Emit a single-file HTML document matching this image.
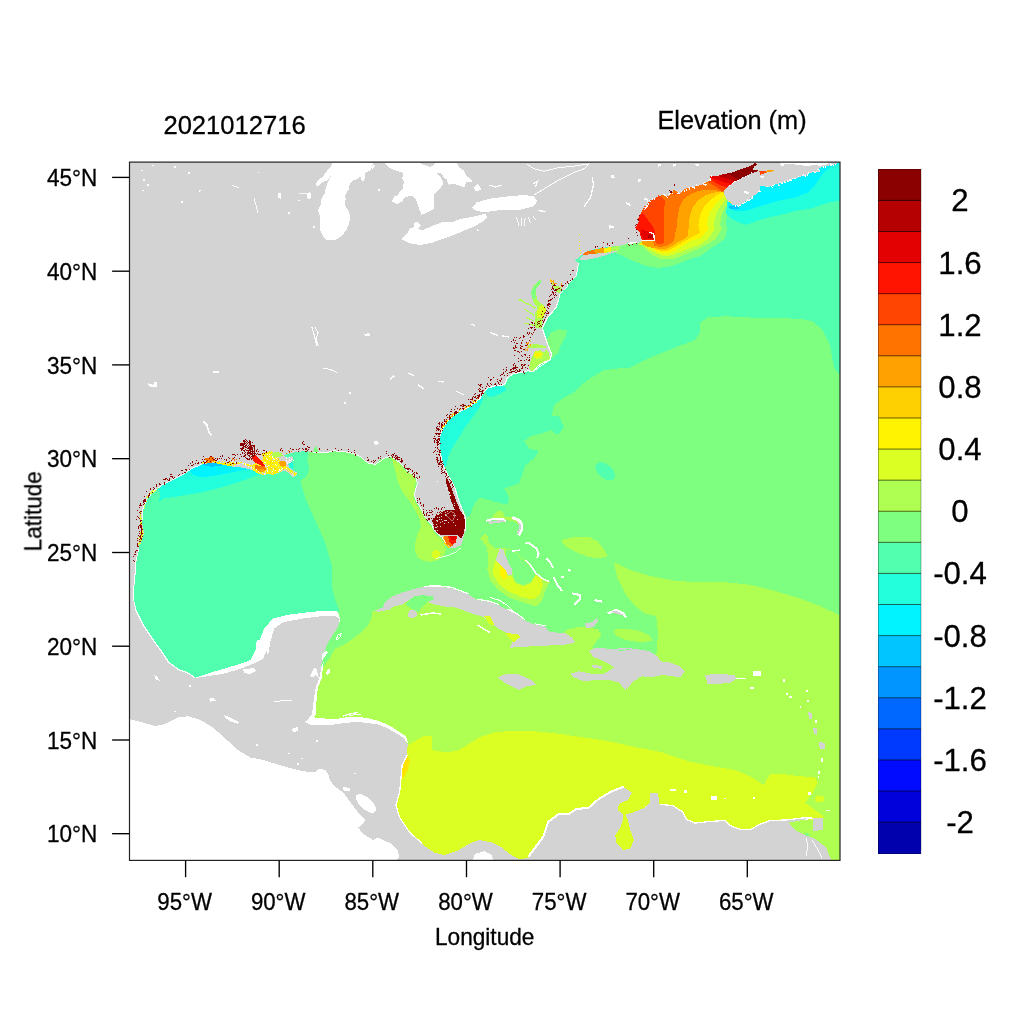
<!DOCTYPE html>
<html><head><meta charset="utf-8"><title>Elevation map</title>
<style>html,body{margin:0;padding:0;background:#fff}svg{display:block}text{font-family:"Liberation Sans",sans-serif;fill:#000;stroke:#000;stroke-width:0.3px}</style></head><body>
<svg width="1024" height="1024" viewBox="0 0 1024 1024">
<rect width="1024" height="1024" fill="#fff"/>
<defs><clipPath id="cp"><rect x="129.5" y="162.1" width="710.5" height="698.3"/></clipPath></defs>
<g clip-path="url(#cp)" shape-rendering="crispEdges">
<polygon fill="#51FFAE" points="128.0,161.0 841.0,161.0 841.0,862.0 128.0,862.0"/>
<polygon fill="#7FFF7F" points="308.0,445.0 308.1,453.5 307.4,461.7 309.4,468.1 306.8,475.7 300.5,481.0 305.5,498.5 315.5,521.0 325.5,543.5 331.8,566.0 331.8,586.0 335.5,601.0 339.2,609.8 325.0,640.0 300.0,700.0 300.0,862.0 841.0,862.0 840.0,375.0 835.0,370.0 832.5,360.0 830.0,345.0 822.5,330.0 812.5,321.2 800.0,318.8 775.0,318.0 750.0,317.5 725.0,316.2 707.5,317.5 700.0,322.5 700.0,332.5 695.0,340.0 675.0,347.5 650.0,357.5 630.0,367.5 615.0,368.8 604.0,370.0 591.5,377.5 581.5,385.0 574.0,392.5 564.0,397.5 554.0,405.0 551.5,416.0 559.0,416.0 564.0,427.2 559.0,433.5 534.0,434.8 524.0,441.0 529.0,448.5 539.0,451.0 534.0,458.5 524.0,471.0 519.0,483.5 504.0,488.5 509.0,498.5 507.8,504.8 496.5,502.2 484.0,498.5 480.0,497.4 476.1,501.0 472.6,508.0 470.3,515.0 466.8,517.4 464.0,511.0 458.0,505.0 450.0,480.0 440.0,452.0 420.0,445.0"/>
<polygon fill="#7FFF7F" points="524.3,442.0 530.2,436.2 540.0,433.8 552.0,430.0 560.0,440.0 545.0,452.0 532.5,459.6 525.5,465.5 521.0,478.0 519.0,484.0 530.0,484.0 560.0,470.0 565.0,440.0"/>
<ellipse fill="#51FFAE" cx="605.2" cy="471.3" rx="11.5" ry="6.8" transform="rotate(40 605.2 471.3)"/>
<polygon fill="#7FFF7F" points="546.9,340.9 550.4,332.7 558.6,329.2 566.8,330.3 565.7,336.2 561.0,344.4 558.6,352.6 551.6,358.5 551.0,352.6 548.1,344.4"/>
<polygon fill="#7FFF7F" points="606.0,240.0 610.0,246.0 615.7,253.2 623.5,256.1 630.0,259.5 636.8,262.3 643.7,265.3 650.5,267.0 657.3,267.7 664.2,267.4 671.0,266.0 677.8,264.0 684.7,261.2 691.5,258.5 700.0,256.3 712.9,247.0 720.5,242.0 725.0,238.8 727.0,230.0 726.4,225.0 726.4,219.7 727.2,215.0 728.8,210.3 730.3,206.4 731.9,204.5 738.0,196.0 765.0,179.0 790.0,168.0 800.0,161.0 600.0,161.0 600.0,236.0 638.0,238.5"/>
<polygon fill="#AEFF51" points="640.0,243.0 642.3,245.5 647.1,251.0 653.9,255.8 660.8,258.8 667.6,259.5 674.4,258.5 681.3,255.8 688.1,253.0 694.9,250.3 700.0,248.2 708.0,244.0 715.8,238.8 721.7,229.0 720.2,225.0 720.9,218.1 722.5,212.7 725.6,207.2 728.0,203.3 728.8,201.7 738.0,196.0 765.0,179.0 790.0,168.0 800.0,161.0 600.0,161.0 600.0,236.0 638.0,238.5"/>
<polygon fill="#DCFF23" points="643.0,244.0 645.0,246.9 650.5,250.3 657.3,254.0 664.2,256.1 671.0,255.4 677.8,253.0 684.7,250.3 691.5,247.6 700.0,244.8 708.0,238.8 714.8,229.0 713.9,225.0 714.7,218.1 717.0,211.9 720.9,205.6 724.8,200.9 726.4,199.4 738.0,196.0 765.0,179.0 790.0,168.0 800.0,161.0 600.0,161.0 600.0,236.0 638.0,238.5"/>
<polygon fill="#FFF300" points="648.0,246.0 652.6,248.2 657.3,251.7 664.2,253.4 671.0,252.3 676.5,249.6 681.9,246.2 687.4,242.8 692.9,240.0 700.0,238.7 705.0,233.0 708.0,229.0 706.9,225.0 707.7,218.1 710.0,211.9 714.7,204.8 720.2,199.4 724.1,195.5 724.5,192.3 738.0,196.0 765.0,179.0 790.0,168.0 800.0,161.0 600.0,161.0 600.0,236.0 638.0,238.5"/>
<polygon fill="#FFD000" points="650.0,246.5 653.9,248.2 657.3,250.0 664.2,251.3 669.6,250.0 675.1,246.9 680.6,243.5 686.0,240.4 691.5,237.3 695.6,235.2 700.0,232.9 699.2,229.0 698.3,225.0 699.8,215.8 703.8,207.2 710.0,200.2 716.2,195.5 721.7,192.3 738.0,196.0 765.0,179.0 790.0,168.0 800.0,161.0 600.0,161.0 600.0,236.0 638.0,238.5"/>
<polygon fill="#FFA200" points="641.5,241.0 643.0,242.1 643.7,244.8 647.8,246.9 652.6,247.9 657.3,248.6 664.2,249.3 668.3,248.2 673.8,244.8 679.2,241.4 684.7,238.7 688.1,235.9 688.4,230.5 688.9,225.0 689.7,215.8 692.8,207.2 698.3,200.2 705.3,195.5 713.1,192.7 720.9,192.0 738.0,196.0 765.0,179.0 790.0,168.0 800.0,161.0 600.0,161.0 600.0,236.0 638.0,238.5"/>
<polygon fill="#FF7300" points="652.0,243.0 652.6,244.8 656.0,246.2 660.8,246.9 665.5,246.2 669.6,244.1 673.8,240.7 675.1,236.6 675.5,231.8 677.2,225.0 677.6,215.8 679.5,207.2 683.4,199.4 689.7,194.7 697.5,191.2 705.3,189.6 714.7,190.0 721.7,191.6 738.0,196.0 765.0,179.0 790.0,168.0 800.0,161.0 600.0,161.0 600.0,236.0 638.0,238.5"/>
<polygon fill="#FF4500" points="654.6,240.7 657.3,243.5 660.8,243.8 663.5,242.8 664.2,238.7 664.5,231.8 664.2,225.0 664.3,211.9 664.7,200.2 660.0,195.0 640.0,200.0 630.0,225.0 640.0,238.0"/>
<polygon fill="#FF1400" points="642.6,212.5 647.5,219.3 651.0,224.0 654.3,229.0 655.3,235.9 654.3,240.0 640.0,240.0 634.0,228.0 637.0,218.0"/>
<polygon fill="#E30000" points="640.6,229.0 649.4,232.0 653.3,234.9 654.3,238.8 644.5,239.5 641.6,235.9"/>
<polygon fill="#B50000" points="648.3,235.5 652.6,235.2 652.8,238.3 648.0,238.3"/>
<polygon fill="#FF4500" points="709.2,182.6 714.7,186.1 722.5,191.2 745.0,190.0 765.0,179.0 790.0,168.0 800.0,161.0 705.0,161.0 705.0,172.0"/>
<polygon fill="#FF1400" points="712.0,180.6 717.8,184.1 726.4,187.7 729.1,186.1 745.0,190.0 765.0,179.0 790.0,168.0 800.0,161.0 705.0,161.0 705.0,172.0"/>
<polygon fill="#E30000" points="711.6,177.9 719.4,180.6 728.0,183.4 731.9,183.8 745.0,190.0 765.0,179.0 790.0,168.0 800.0,161.0 705.0,161.0 705.0,172.0"/>
<polygon fill="#B50000" points="717.8,175.9 726.4,178.7 733.4,180.6 735.0,181.8 745.0,190.0 765.0,179.0 790.0,168.0 800.0,161.0 705.0,161.0 705.0,172.0"/>
<polygon fill="#8B0000" points="727.2,173.6 733.4,176.7 738.1,179.5 740.0,179.8 745.0,190.0 765.0,179.0 790.0,168.0 800.0,161.0 705.0,161.0 705.0,172.0"/>
<polygon fill="#23FFDC" points="726.0,213.0 726.9,214.7 730.8,218.6 738.6,222.5 746.4,224.9 750.3,223.5 758.1,220.5 767.9,217.6 780.0,215.2 795.0,211.0 810.0,208.8 825.0,203.8 841.0,200.0 841.0,162.5 790.0,162.5 770.0,178.0 745.0,190.0 728.0,197.0"/>
<polygon fill="#00F3FF" points="727.5,206.5 728.8,207.9 734.7,210.8 742.5,211.3 750.3,209.3 758.1,206.9 765.9,204.4 773.8,202.0 780.0,200.5 795.0,197.5 807.5,192.5 815.0,185.0 820.0,177.5 825.0,171.0 832.5,166.0 841.0,163.5 841.0,162.5 790.0,162.5 770.0,178.0 745.0,190.0 728.0,197.0"/>
<polygon fill="#00C5FF" points="728.3,206.7 731.8,205.9 739.6,206.9 738.6,208.8 732.7,209.3 729.3,208.3"/>
<polygon fill="#23FFDC" points="439.9,444.4 439.9,436.2 442.3,429.1 447.0,422.1 452.8,416.2 459.8,411.6 466.9,408.0 473.9,403.4 479.8,398.7 482.5,394.5 483.5,397.0 482.1,402.2 478.6,409.2 471.6,418.6 464.5,428.0 457.5,439.7 451.6,449.1 448.1,457.3 446.4,465.5 444.5,467.0 442.7,461.1 441.0,451.7 435.0,445.0"/>
<polygon fill="#23FFDC" points="485.6,391.6 486.0,388.0 495.0,384.0 502.0,384.0 506.7,389.9 499.7,394.0 490.3,397.5 486.2,395.2"/>
<polygon fill="#23FFDC" points="157.9,488.0 160.0,482.0 173.7,478.0 189.5,468.0 201.8,462.0 219.4,460.0 237.0,464.0 251.0,466.0 261.6,473.9 251.0,477.5 237.0,482.7 219.4,488.0 201.8,492.4 180.7,495.9 163.2,498.6 158.8,502.1 160.5,495.0"/>
<polygon fill="#00F3FF" points="189.5,470.4 195.0,466.0 201.8,463.0 215.9,461.0 226.4,463.0 240.5,466.9 251.0,468.7 237.0,471.3 219.4,474.8 201.8,477.5 193.0,474.8"/>
<polygon fill="#00C5FF" points="201.8,464.8 209.0,462.0 223.0,462.5 222.0,465.5 211.0,466.8"/>
<polygon fill="#23FFDC" points="287.9,463.0 292.2,462.2 293.7,465.7 292.2,469.6 289.0,468.8"/>
<polygon fill="#AEFF51" points="314.0,684.0 320.0,672.0 325.9,663.0 329.5,658.6 333.9,649.8 345.7,643.9 355.9,636.6 366.2,627.8 371.3,619.0 372.0,611.0 374.0,610.8 384.0,607.0 400.0,595.0 430.0,590.0 470.0,600.0 510.0,615.0 540.0,630.0 560.0,636.0 566.0,630.0 580.0,626.5 598.0,629.0 601.5,635.0 596.0,642.0 592.0,648.0 600.0,656.0 640.0,663.0 652.0,660.0 657.0,652.0 657.5,640.0 657.5,628.5 656.2,616.0 645.0,613.5 635.0,606.0 625.0,593.5 617.5,578.5 613.8,562.2 630.0,569.8 650.0,576.0 675.0,581.0 700.0,582.2 725.0,582.2 750.0,584.8 775.0,591.0 800.0,598.5 820.0,606.0 841.0,616.0 841.0,862.0 300.0,862.0 300.0,690.0"/>
<polygon fill="#AEFF51" points="613.8,629.8 625.0,628.5 640.0,631.0 650.0,636.0 652.5,641.0 640.0,642.2 625.0,639.8 615.0,634.8"/>
<polygon fill="#7FFF7F" points="405.4,604.4 414.0,595.3 423.7,594.1 432.3,595.3 434.4,599.0 426.9,602.2 418.3,611.9 413.0,609.7"/>
<polygon fill="#AEFF51" points="561.3,539.8 572.9,537.4 589.5,536.9 597.8,541.5 604.5,549.8 607.8,556.4 601.2,558.1 589.5,557.3 577.9,553.1 567.9,548.1 563.0,544.0"/>
<polygon fill="#AEFF51" points="391.7,457.6 397.6,462.3 405.8,471.1 414.0,476.3 415.8,481.0 414.6,489.2 413.4,496.3 415.2,502.1 419.9,509.2 424.5,517.4 426.9,522.1 431.6,526.8 435.1,533.8 441.0,538.5 444.5,545.5 445.7,550.2 443.9,555.5 438.6,559.6 431.6,561.7 423.4,561.0 417.7,557.2 415.2,551.4 415.2,543.2 417.5,533.8 421.0,526.8 419.9,519.7 415.2,510.3 409.3,501.0 402.3,491.6 397.6,481.0 395.2,470.5 392.9,462.3"/>
<ellipse fill="#DCFF23" cx="435.7" cy="554.3" rx="4.2" ry="4.4" transform="rotate(20 435.7 554.3)"/>
<polygon fill="#AEFF51" points="480.0,538.2 484.9,534.0 487.4,535.7 489.1,543.2 494.9,548.1 503.2,548.1 513.2,549.8 519.8,556.4 526.4,561.4 536.4,573.0 543.0,579.7 549.7,582.2 544.7,591.3 543.0,597.9 541.4,601.3 536.4,606.3 533.1,605.4 523.1,602.1 509.8,597.9 498.2,589.6 489.9,579.7 487.4,569.7 488.3,556.4 486.6,546.5 483.3,542.3"/>
<polygon fill="#DCFF23" points="494.9,560.6 492.4,573.0 498.2,583.0 508.2,591.3 521.5,597.1 533.1,599.6 539.7,594.6 543.0,584.7 541.4,578.9 536.4,575.5 533.1,578.0 531.4,583.0 523.1,586.3 514.8,583.0 511.5,576.4 507.4,576.4 501.5,566.4 497.4,561.4"/>
<polygon fill="#7FFF7F" points="505.7,549.8 513.2,550.6 519.8,557.3 526.4,562.3 535.6,573.0 533.9,577.2 531.1,582.2 523.1,585.0 515.7,582.2 512.8,575.5 512.3,569.7 509.0,563.9 505.7,556.4"/>
<polygon fill="#FFF300" points="499.9,566.4 503.2,565.6 507.4,571.4 507.4,578.0 503.2,578.9 500.2,574.7"/>
<polygon fill="#AEFF51" points="491.6,516.6 497.4,510.8 502.4,511.6 504.9,516.6 512.3,517.4 518.1,520.8 519.8,526.6 514.8,521.6 509.8,520.8 503.2,518.6 494.9,518.6"/>
<polygon fill="#DCFF23" points="407.8,745.0 416.5,740.0 424.0,736.2 431.5,736.2 431.5,750.0 446.5,752.5 459.0,750.0 469.0,743.8 479.0,737.5 494.0,732.5 514.0,730.5 534.0,731.2 559.0,733.8 584.0,737.5 609.0,741.2 637.5,747.5 662.5,752.5 687.5,761.2 712.5,766.2 735.0,770.0 750.0,776.2 763.8,785.0 770.0,773.8 780.0,773.8 800.0,776.2 815.0,777.5 817.5,782.5 812.5,792.5 805.0,802.5 815.0,810.0 823.8,816.2 817.0,824.0 808.0,845.0 700.0,855.0 400.0,862.0 392.0,800.0 400.0,760.0"/>
<ellipse fill="#DCFF23" cx="819.5" cy="799.0" rx="4.5" ry="3.2" transform="rotate(0 819.5 799.0)"/>
<polygon fill="#FFE400" points="404.0,752.0 406.4,753.4 409.9,760.4 408.1,769.2 402.9,778.9 399.5,775.0 400.5,764.0"/>
<polygon fill="#FFFFFF" points="254.2,672.0 256.8,656.0 259.2,641.0 264.2,628.5 273.0,618.5 288.0,614.8 308.0,612.2 328.0,610.5 336.8,611.0 340.5,618.5 339.2,623.5 328.0,628.5 278.0,628.5 268.0,672.0"/>
<polygon fill="#FFFFFF" points="194.2,678.0 203.0,675.0 215.5,671.2 228.0,667.5 240.5,663.8 250.5,660.0 255.5,650.0 256.8,640.0 270.0,640.0 268.0,660.0 255.0,672.0 230.0,680.0 205.0,684.0"/>
<polyline fill="none" stroke="#FFFFFF" stroke-width="2.6" points="137.8,549.0 135.2,561.0 134.0,578.5 132.5,590.0 132.8,600.0 135.5,611.0 143.0,626.0 153.0,641.0 160.5,651.0 168.0,662.5 178.0,670.0 188.0,673.8 194.2,678.0"/>
<polygon fill="#FFFFFF" points="323.7,662.0 321.5,679.0 317.8,687.9 316.4,702.5 316.4,714.2 312.0,718.0 312.0,717.2 334.0,719.4 345.0,717.5 355.9,716.5 367.0,718.0 377.9,720.8 386.0,724.0 392.5,727.4 399.0,731.5 405.7,736.2 408.5,744.0 404.0,740.0 392.0,732.0 378.0,726.0 356.0,723.0 334.0,726.0 312.0,727.0 300.0,724.0 308.0,714.0 312.0,700.0 316.0,680.0 320.0,668.0"/>
<polygon fill="#FFFFFF" points="309.8,676.2 314.2,667.4 316.4,668.8 318.6,677.6 315.6,674.7 313.4,676.9"/>
<polyline fill="none" stroke="#FFFFFF" stroke-width="1.4" points="343.0,716.0 350.0,714.0 358.0,712.5"/>
<polyline fill="none" stroke="#FFFFFF" stroke-width="1.0" points="349.0,715.8 356.0,714.5 361.0,714.0"/>
<polyline fill="none" stroke="#FFFFFF" stroke-width="1.0" points="336.0,640.0 338.0,635.0 341.0,633.5 340.0,637.0 336.5,640.5"/>
<polyline fill="none" stroke="#FFFFFF" stroke-width="4" points="529.0,857.5 536.5,847.5 544.0,837.5 549.0,822.5 559.0,815.0 569.0,815.0 576.5,810.0 589.0,808.8 599.0,800.0 611.5,792.5 624.0,787.5"/>
<polyline fill="none" stroke="#FFFFFF" stroke-width="2.5" points="645.0,807.5 660.0,805.0 672.5,806.2 682.5,812.5 686.2,820.0 695.0,823.8 710.0,822.0 725.0,821.2 730.0,826.2 740.0,830.0 750.0,830.5 760.0,825.0 770.0,821.2 787.5,820.5 800.0,818.8 812.5,818.0"/>
<polyline fill="none" stroke="#FFFFFF" stroke-width="2.5" points="406.5,755.0 401.5,765.0 400.2,780.0 399.0,792.5 395.2,805.0 399.0,817.5 409.0,832.5 421.5,843.8"/>
<polyline fill="none" stroke="#FFFFFF" stroke-width="1.3" points="423.7,586.3 438.7,585.9 451.6,587.4 460.2,590.6 468.8,593.8"/>
<polyline fill="none" stroke="#FFFFFF" stroke-width="1.3" points="477.4,599.2 490.3,601.4 498.9,604.6"/>
<polyline fill="none" stroke="#FFFFFF" stroke-width="1.2" points="507.5,608.9 516.1,613.2 524.7,619.6"/>
<polyline fill="none" stroke="#FFFFFF" stroke-width="1.0" points="535.4,623.9 546.2,626.1"/>
<polyline fill="none" stroke="#FFFFFF" stroke-width="1.0" points="490.3,597.5 498.9,600.1 507.5,605.4 512.9,610.8"/>
<polyline fill="none" stroke="#FFFFFF" stroke-width="1.5" points="477.4,624.8 483.9,629.1 490.3,632.7"/>
<polyline fill="none" stroke="#FFFFFF" stroke-width="1.5" points="420.5,615.1 432.3,613.0 440.9,614.0"/>
<polyline fill="none" stroke="#FFFFFF" stroke-width="2" points="485.8,520.8 491.6,519.4 503.2,519.4 505.7,521.6"/>
<polyline fill="none" stroke="#FFFFFF" stroke-width="3" points="512.3,517.4 518.1,519.9 521.8,524.1 521.8,529.1 518.5,535.2"/>
<polyline fill="none" stroke="#FFFFFF" stroke-width="2" points="525.6,542.8 529.8,543.5 536.4,548.5 538.6,553.1 537.2,558.1"/>
<polyline fill="none" stroke="#FFFFFF" stroke-width="2" points="546.4,558.1 549.7,561.4 553.0,568.1"/>
<polyline fill="none" stroke="#FFFFFF" stroke-width="1.5" points="525.6,559.8 531.4,566.4 535.6,573.0 543.0,578.9 548.9,581.3"/>
<polyline fill="none" stroke="#FFFFFF" stroke-width="2" points="553.8,577.2 557.2,584.7 562.1,591.0"/>
<polyline fill="none" stroke="#FFFFFF" stroke-width="2" points="572.1,593.3 579.6,595.0 580.1,598.8 574.6,604.6"/>
<polyline fill="none" stroke="#FFFFFF" stroke-width="2" points="594.5,600.1 602.0,601.6"/>
<polyline fill="none" stroke="#FFFFFF" stroke-width="2.5" points="607.8,613.4 616.1,610.1 622.7,613.4 626.1,617.0"/>
<polyline fill="none" stroke="#FFFFFF" stroke-width="1.5" points="512.3,551.1 519.8,550.1"/>
<polyline fill="none" stroke="#FFFFFF" stroke-width="2" points="568.9,568.9 569.9,571.7"/>
<polyline fill="none" stroke="#FFFFFF" stroke-width="2" points="561.3,576.9 563.8,576.9"/>
<polyline fill="none" stroke="#FFFFFF" stroke-width="0.8" points="436.3,558.4 445.7,556.1 455.0,552.5 460.9,547.9"/>
<polygon fill="#FFFFFF" points="782.5,678.8 784.5,678.8 784.5,682.2 782.5,682.2"/>
<polygon fill="#FFFFFF" points="785.5,693.0 788.0,693.0 788.0,694.5 785.5,694.5"/>
<polygon fill="#FFFFFF" points="789.0,695.5 791.5,695.5 791.5,698.0 789.0,698.0"/>
<polygon fill="#FFFFFF" points="806.2,689.5 808.2,689.5 808.2,692.0 806.2,692.0"/>
<polygon fill="#FFFFFF" points="806.5,699.5 809.0,699.5 809.0,701.5 806.5,701.5"/>
<polygon fill="#FFFFFF" points="799.5,705.8 801.0,705.8 801.0,707.8 799.5,707.8"/>
<polygon fill="#FFFFFF" points="815.0,720.0 817.0,720.0 817.0,722.5 815.0,722.5"/>
<polygon fill="#FFFFFF" points="821.2,757.5 823.2,757.5 823.2,762.0 821.2,762.0"/>
<polygon fill="#FFFFFF" points="818.0,771.2 819.5,771.2 819.5,774.2 818.0,774.2"/>
<polygon fill="#FFFFFF" points="817.5,776.2 819.0,776.2 819.0,778.2 817.5,778.2"/>
<polygon fill="#FFFFFF" points="808.0,792.0 810.5,792.0 810.5,795.0 808.0,795.0"/>
<polygon fill="#FFFFFF" points="826.2,809.5 829.8,809.5 829.8,811.0 826.2,811.0"/>
<polygon fill="#FFFFFF" points="753.0,670.5 761.0,670.5 761.0,676.0 753.0,676.0"/>
<polygon fill="#FFFFFF" points="749.5,687.0 754.0,687.0 754.0,688.5 749.5,688.5"/>
<polygon fill="#FFFFFF" points="736.2,677.5 746.2,677.5 746.2,678.8 736.2,678.8"/>
<polygon fill="#FFFFFF" points="669.5,788.8 676.0,788.8 676.0,791.2 669.5,791.2"/>
<polygon fill="#FFFFFF" points="683.8,789.5 686.8,789.5 686.8,793.0 683.8,793.0"/>
<polygon fill="#FFFFFF" points="711.2,796.2 717.2,796.2 717.2,799.8 711.2,799.8"/>
<polygon fill="#FFFFFF" points="723.8,797.5 726.2,797.5 726.2,799.0 723.8,799.0"/>
<polygon fill="#FFFFFF" points="753.0,797.0 755.0,797.0 755.0,798.5 753.0,798.5"/>
<polyline fill="none" stroke="#FFFFFF" stroke-width="1.6" points="641.6,240.6 654.3,240.3 654.6,238.5 653.3,233.9 649.4,232.0"/>
<polyline fill="none" stroke="#FFFFFF" stroke-width="1.5" points="628.0,243.5 634.0,242.6 640.0,241.0"/>
<polygon fill="#D3D3D3" points="841.0,161.0 840.2,162.4 834.8,164.3 828.6,165.5 822.5,166.7 817.7,169.2 821.3,172.2 816.4,171.6 810.3,172.8 805.4,175.3 799.3,177.1 792.0,179.5 785.9,181.4 779.8,183.2 774.9,184.4 771.3,186.2 766.4,187.5 763.9,185.6 760.3,186.2 760.3,190.5 755.4,194.8 749.3,199.1 744.4,202.1 739.5,205.8 733.4,205.2 728.5,201.5 724.9,196.6 723.9,191.2 725.9,188.3 730.8,184.4 736.6,180.5 742.5,177.6 748.4,174.6 752.3,172.7 757.1,172.2 758.1,170.2 755.2,169.8 752.3,169.3 754.2,166.8 756.7,164.4 755.2,162.9 752.3,164.9 748.4,166.8 742.5,168.8 736.6,170.7 730.8,173.2 724.9,173.7 719.1,175.6 712.2,175.6 709.3,176.6 711.2,179.5 707.3,182.0 701.5,184.9 695.6,186.4 689.8,187.3 683.9,189.3 680.0,193.2 673.8,190.0 671.9,192.9 668.0,196.8 664.1,194.9 657.2,196.8 652.3,199.8 648.4,202.7 643.1,209.5 640.6,213.4 638.2,218.3 638.7,222.2 635.3,227.6 639.6,232.0 640.6,235.9 642.1,240.8 637.7,243.7 636.2,242.0 632.3,242.0 628.4,242.9 624.5,244.9 618.6,245.9 612.7,246.4 605.9,247.3 599.1,248.3 593.2,249.3 587.3,251.2 582.5,254.7 577.6,258.6 574.6,261.0 578.6,263.0 577.6,268.8 576.1,275.7 572.7,279.6 567.8,284.5 563.9,290.0 562.1,290.5 559.8,294.0 558.6,299.9 556.3,306.9 551.6,312.8 546.9,318.6 542.2,328.0 543.4,331.5 546.9,342.1 551.6,353.8 550.4,359.6 544.5,362.0 538.7,365.5 532.8,371.4 528.1,370.8 519.9,372.5 512.6,374.1 506.7,378.8 505.5,383.4 502.0,385.2 495.0,385.8 488.0,388.1 483.3,392.8 479.8,398.7 473.9,403.4 466.9,408.0 459.8,411.6 452.8,416.2 447.0,422.1 442.3,429.1 439.9,436.2 439.9,444.4 440.4,451.7 441.5,458.8 443.3,465.8 446.8,472.8 451.5,481.0 455.0,488.1 457.4,496.3 459.7,503.3 462.1,509.2 465.0,516.2 465.6,522.1 465.0,531.4 463.2,538.5 460.9,545.5 455.0,547.9 448.0,547.9 445.7,543.2 442.1,537.3 437.4,533.8 433.9,530.3 431.6,524.4 426.9,519.7 423.4,513.9 419.9,506.8 416.3,501.0 414.6,496.3 415.2,490.4 417.5,483.4 416.3,477.5 411.7,474.0 407.0,470.5 402.3,465.2 397.6,461.1 392.9,457.6 389.4,457.0 384.7,458.2 380.0,459.3 375.4,464.3 369.0,463.6 365.2,461.1 361.4,457.3 356.3,454.8 348.7,452.2 341.1,451.6 333.5,450.9 325.9,452.9 318.9,452.2 315.7,445.2 313.2,452.2 305.4,451.2 299.2,451.6 292.9,452.8 286.7,454.0 283.6,455.5 286.7,457.9 291.4,456.3 293.7,457.9 291.4,462.6 288.2,464.1 289.0,467.2 292.9,470.4 297.6,472.7 296.8,475.1 292.9,477.4 289.8,474.3 285.1,470.4 278.9,472.7 272.6,475.1 267.9,473.5 263.2,475.1 257.8,473.5 253.1,470.4 247.6,468.8 239.8,467.2 232.0,466.5 228.2,464.3 219.4,462.5 210.6,462.5 201.8,464.3 193.0,467.8 184.2,473.9 173.7,479.2 163.2,484.5 154.4,490.6 147.3,498.6 142.9,509.1 142.1,520.0 141.8,521.0 144.2,533.5 139.2,546.0 135.5,561.0 134.2,578.5 132.5,596.0 135.5,611.0 143.0,626.0 153.0,641.0 160.5,651.0 168.0,662.5 178.0,670.0 188.0,673.8 194.2,678.0 203.0,677.0 223.0,673.8 240.5,668.8 253.0,663.8 263.0,658.8 266.8,650.0 268.0,656.0 270.5,641.0 274.2,628.5 283.0,622.2 303.0,618.5 323.0,616.0 335.5,616.0 339.8,619.0 338.3,626.4 332.5,635.2 327.4,643.9 324.4,651.3 323.0,658.6 321.5,664.5 321.0,670.0 319.3,677.6 315.6,687.9 313.4,702.5 312.0,714.2 308.0,719.5 304.6,722.0 312.0,725.2 322.0,725.0 334.0,724.5 345.0,723.0 355.9,721.9 367.0,722.8 377.9,724.5 386.0,727.5 392.5,731.1 399.0,735.0 404.3,738.4 407.8,745.0 406.5,755.0 401.5,765.0 400.2,780.0 399.0,792.5 395.2,805.0 399.0,817.5 409.0,832.5 421.5,843.8 434.0,852.5 444.0,855.0 459.0,850.0 469.0,843.8 479.0,840.0 491.5,842.5 501.5,847.5 511.5,855.0 520.2,859.5 529.0,857.5 536.5,847.5 544.0,837.5 549.0,822.5 559.0,815.0 569.0,815.0 576.5,810.0 589.0,808.8 599.0,800.0 611.5,792.5 624.0,787.5 631.5,792.5 627.8,800.0 619.0,803.8 617.8,810.0 624.0,815.0 632.5,812.5 645.0,807.5 650.0,803.0 650.0,793.0 658.0,792.5 659.0,802.0 660.0,805.0 672.5,806.2 682.5,812.5 686.2,820.0 695.0,823.8 710.0,822.0 725.0,821.2 730.0,826.2 740.0,830.0 750.0,830.5 760.0,825.0 770.0,821.2 787.5,820.5 800.0,818.8 806.0,818.3 803.0,822.0 795.0,825.0 790.0,823.0 795.0,830.0 802.5,833.8 812.5,837.5 820.0,842.5 826.2,847.5 828.8,855.0 832.5,862.0 128.0,862.0 128.0,161.0"/>
<polygon fill="#D3D3D3" points="579.5,259.1 582.5,255.6 589.3,254.2 595.2,253.7 603.0,253.2 606.9,252.7 610.8,251.7 618.6,250.5 616.6,251.7 610.8,253.7 603.0,256.1 595.2,258.1 587.3,259.6 579.5,260.5"/>
<polygon fill="#D3D3D3" points="812.5,818.0 822.5,817.5 822.5,830.0 812.5,831.2"/>
<polygon fill="#D3D3D3" points="374.3,610.8 382.9,607.6 385.0,602.2 391.5,596.9 402.2,592.6 413.0,589.3 423.7,586.8 438.7,586.8 451.6,588.3 460.2,591.5 468.8,594.7 477.4,600.1 490.3,602.2 498.9,605.4 507.5,609.7 516.1,614.0 524.7,620.5 535.4,624.8 546.2,626.9 548.3,631.2 556.9,632.7 565.5,633.4 571.9,637.7 575.2,642.0 569.8,644.1 559.0,645.2 546.2,645.6 533.3,646.3 520.4,646.9 509.6,647.8 511.8,643.0 520.4,636.6 516.1,634.4 507.5,633.4 501.0,630.2 494.6,625.9 488.2,620.5 481.7,616.2 473.1,614.0 464.5,610.8 455.9,607.6 445.2,606.5 434.4,604.4 428.0,602.2 434.4,599.0 432.3,596.2 423.7,595.3 415.1,595.8 408.7,600.1 402.2,604.4 393.6,606.5 389.3,609.7 382.9,610.8 378.6,611.9"/>
<polygon fill="#D3D3D3" points="407.6,614.0 410.8,609.7 416.2,610.8 417.7,615.1 413.0,618.3 408.7,617.3"/>
<polygon fill="#DCFF23" points="483.9,616.2 490.3,616.2 494.6,625.9 489.2,623.7"/>
<polygon fill="#DCFF23" points="505.3,632.9 518.2,634.4 520.4,637.0 513.9,642.0 509.6,638.7"/>
<polygon fill="#D3D3D3" points="497.8,677.5 506.5,673.8 519.0,674.5 531.5,680.0 536.5,685.0 526.5,686.2 519.0,690.0 511.5,686.2 504.0,682.5"/>
<polygon fill="#D3D3D3" points="589.0,651.2 596.5,647.5 609.0,648.8 621.5,651.2 634.0,648.8 607.5,651.2 622.5,647.5 635.0,648.8 650.0,651.2 657.5,656.2 660.0,661.2 670.0,662.5 680.0,666.2 685.0,671.2 680.0,677.5 672.5,676.2 662.5,675.0 650.0,677.5 642.5,676.2 635.0,678.8 627.5,688.8 622.5,683.8 615.0,680.0 605.0,678.8 640.0,677.5 631.5,682.5 625.2,690.0 619.0,682.5 609.0,680.0 596.5,680.0 584.0,681.2 574.0,677.5 570.2,673.8 579.0,671.2 591.5,673.8 604.0,673.8 614.0,667.5 609.0,663.8 601.5,660.0 594.0,657.5"/>
<polygon fill="#D3D3D3" points="591.5,665.0 601.5,665.8 602.0,668.8 592.8,668.0"/>
<polygon fill="#D3D3D3" points="705.0,675.0 717.5,673.8 735.0,675.0 736.2,678.8 730.0,683.0 717.5,683.8 707.5,683.8"/>
<polygon fill="#D3D3D3" points="499.9,548.1 503.2,549.0 505.7,556.4 509.0,563.9 512.3,569.7 512.3,574.7 508.2,575.5 505.7,569.7 501.5,565.6 495.7,559.8 497.4,555.6"/>
<polygon fill="#D3D3D3" points="584.6,623.7 592.0,622.0 597.0,617.9 597.8,621.2 593.7,627.0 586.2,628.2"/>
<polygon fill="#D3D3D3" points="488.3,521.3 503.2,519.9 505.2,521.6 499.9,522.6 493.2,523.2 489.6,524.2"/>
<polygon fill="#D3D3D3" points="516.5,520.8 521.1,524.4 521.1,529.1 518.6,534.0 516.5,532.4 519.1,528.2 518.5,524.4"/>
<polygon fill="#D3D3D3" points="611.1,611.6 616.9,610.9 624.4,615.4 619.4,614.6 614.4,613.4"/>
<polygon fill="#D3D3D3" points="808.0,712.0 812.0,713.0 812.0,719.5 809.0,718.5"/>
<polygon fill="#D3D3D3" points="813.0,727.5 817.0,728.5 817.0,735.0 814.0,734.0"/>
<polygon fill="#D3D3D3" points="818.8,742.0 824.8,743.0 824.8,749.5 819.8,748.5"/>
<polygon fill="#FFFFFF" points="128.0,718.8 143.0,722.5 155.5,726.2 165.5,723.8 178.0,717.5 188.0,716.2 200.5,720.0 213.0,727.5 225.5,738.8 238.0,750.0 250.5,757.5 263.0,760.0 275.5,763.8 288.0,767.5 303.0,771.2 315.5,772.5 319.2,768.8 325.5,770.0 328.0,776.2 333.0,785.0 343.0,792.5 350.5,802.5 358.0,812.5 365.5,820.0 361.8,825.0 358.0,827.5 363.0,833.8 373.0,840.0 378.0,837.5 384.0,840.5 391.5,843.8 397.8,850.0 399.0,857.5 394.0,862.0 128.0,862.0"/>
<polygon fill="#FFFFFF" points="471.5,862.0 475.2,853.8 484.0,851.2 491.5,855.0 494.0,862.0"/>
<ellipse fill="#FFFFFF" cx="366.0" cy="803.5" rx="12.5" ry="5.8" transform="rotate(42 366.0 803.5)"/>
<ellipse fill="#FFFFFF" cx="346.5" cy="789.2" rx="4.0" ry="1.8" transform="rotate(15 346.5 789.2)"/>
<polygon fill="#DCFF23" points="624.0,812.0 627.8,820.0 630.2,830.0 634.0,840.0 630.2,848.8 622.8,850.0 616.5,842.5 615.2,835.0 620.2,827.5 622.8,820.0 622.5,812.0"/>
<polygon fill="#AEFF51" points="788.8,822.5 806.0,819.5 812.5,820.0 812.5,831.2 818.0,831.5 823.0,835.0 817.0,839.5 808.0,836.2 802.5,833.8 795.0,830.0"/>
<polygon fill="#7FFF7F" points="803.0,833.0 808.0,833.5 811.0,836.0 806.0,836.0"/>
<polyline fill="none" stroke="#FFFFFF" stroke-width="0.9" points="806.0,838.0 808.0,846.0 806.0,856.0"/>
<polyline fill="none" stroke="#FFFFFF" stroke-width="0.9" points="812.0,840.0 818.0,850.0 822.0,858.0"/>
<polygon fill="#8B0000" points="431.6,519.7 435.1,517.4 441.0,512.7 445.7,510.3 450.3,509.8 455.0,510.3 450.3,498.6 448.0,489.2 445.7,481.0 447.2,478.7 449.3,482.2 452.7,491.6 456.2,501.0 459.7,509.2 464.0,516.2 465.3,524.4 463.8,533.8 460.9,538.5 457.4,535.0 450.3,535.0 443.3,535.5 437.4,533.8 433.9,529.7 433.3,524.4"/>
<path fill="#D3D3D3" d="M435 530h1v1h-1zM436 527h1v1h-1zM437 530h1v1h-1zM440 522h1v1h-1zM444 523h1v1h-1zM445 512h1v1h-1zM445 515h1v1h-1zM447 511h1v1h-1zM448 522h1v1h-1zM453 515h1v1h-1zM453 522h1v1h-1zM455 515h1v1h-1zM455 525h1v1h-1zM457 519h1v1h-1z"/>
<path fill="#D3D3D3" d="M432 519h1v1h-1zM433 524h1v1h-1zM435 527h1v1h-1zM436 520h1v1h-1zM436 524h1v1h-1zM437 517h1v1h-1zM437 520h1v1h-1zM437 521h1v1h-1zM437 526h1v1h-1zM439 517h1v1h-1zM439 519h1v1h-1zM440 526h1v1h-1zM441 513h1v1h-1zM441 516h1v1h-1zM441 519h1v1h-1zM442 521h1v1h-1zM444 520h1v1h-1zM445 514h1v1h-1zM445 515h1v1h-1zM445 520h1v1h-1zM446 515h1v1h-1zM446 520h1v1h-1z"/>
<path fill="#8B0000" d="M427 512h1v1h-1zM428 515h1v1h-1zM429 510h1v1h-1zM429 512h1v1h-1zM430 512h1v1h-1zM431 510h1v1h-1zM431 512h1v1h-1zM432 511h1v1h-1zM432 514h1v1h-1zM434 508h1v1h-1zM435 516h1v1h-1zM435 517h1v1h-1zM436 507h1v1h-1zM436 508h1v1h-1zM436 514h1v1h-1zM436 515h1v1h-1zM437 512h1v1h-1zM438 508h1v1h-1zM438 509h1v1h-1zM438 515h1v1h-1zM439 512h1v1h-1zM440 511h1v1h-1zM441 508h1v1h-1zM441 509h1v1h-1zM442 507h1v1h-1zM444 507h1v1h-1z"/>
<path fill="#D3D3D3" d="M449 493h1v1h-1zM451 508h1v1h-1zM454 503h1v1h-1zM454 505h1v1h-1z"/>
<polygon fill="none" stroke="#c9a9a9" stroke-width="0.7" points="446.2,514.5 450.9,511.5 454.4,513.3 455,516.8 452.1,520.9 447.4,516.2"/>
<polygon fill="#FFD000" points="442.7,535.5 444.5,539.6 446.8,544.9 450.3,547.3 448.0,547.9 445.1,544.9 442.7,539.6"/>
<polygon fill="#FF7300" points="443.9,536.1 448.6,535.5 449.8,542.6 453.3,545.5 450.3,546.7 446.8,544.3 444.5,539.6"/>
<polygon fill="#FF1400" points="448.0,535.5 456.8,535.5 456.2,542.0 452.7,544.9 449.2,542.0"/>
<polygon fill="#E30000" points="449.2,535.5 456.2,535.5 455.6,539.6 451.5,539.6"/>
<polygon fill="#AEFF51" points="529.9,363.8 530.7,359.6 533.4,353.8 535.2,350.9 540.4,350.3 544.0,352.6 546.3,349.3 548.7,352.6 550.2,359.1 544.5,361.8 538.7,364.9 534.6,369.6 531.7,371.4 529.3,367.9"/>
<polygon fill="#DCFF23" points="533.4,353.8 535.2,351.4 540.4,350.9 542.8,353.8 542.2,357.3 537.5,359.1 534.0,357.3"/>
<polygon fill="#FFF300" points="534.6,353.2 540.4,352.6 541.0,355.5 536.3,357.1 534.2,355.5"/>
<polygon fill="#AEFF51" points="527.5,345.3 535.2,343.9 542.2,345.1 546.3,346.5 545.1,348.4 535.2,347.9 528.1,347.7"/>
<polyline fill="none" stroke="#FFFFFF" stroke-width="1" points="532.8,371.4 550.4,359.6 551.6,353.8 546.9,342.0 543.4,331.5"/>
<polygon fill="#AEFF51" points="536.3,328.0 534.0,324.5 535.2,318.6 535.2,312.8 537.5,309.2 536.3,305.7 533.4,302.2 531.7,296.3 531.1,291.7 533.4,286.4 538.7,280.5 541.0,279.9 541.6,282.3 536.3,288.1 535.8,294.0 537.5,299.9 541.0,303.4 544.5,305.7 546.9,310.4 544.5,315.1 542.2,321.0 541.6,325.7 542.2,328.6"/>
<polygon fill="#DCFF23" points="537.5,310.4 541.0,305.1 545.1,306.9 546.3,310.4 544.0,315.1 540.4,318.6 536.9,317.4"/>
<polygon fill="#7FFF7F" points="531.4,295.2 531.4,291.1 533.8,286.7 538.9,280.9 541.0,280.2 541.3,282.3 536.1,288.1 535.4,294.0 535.8,297.5 533.4,299.9"/>
<polyline fill="none" stroke="#AEFF51" stroke-width="1.5" points="535.2,308.1 529.3,304.5 523.4,302.2 521.1,299.9 517.6,300.4"/>
<polyline fill="none" stroke="#AEFF51" stroke-width="1.2" points="534.0,315.1 529.3,312.2 524.6,309.2"/>
<polyline fill="none" stroke="#AEFF51" stroke-width="1.2" points="535.2,325.7 529.3,324.2 524.0,323.3"/>
<polyline fill="none" stroke="#AEFF51" stroke-width="1.2" points="534.0,321.0 526.4,317.4"/>
<polygon fill="#AEFF51" points="551.6,282.9 555.1,285.2 560.4,287.0 561.5,289.3 559.2,293.4 556.3,291.7 553.9,288.1"/>
<polyline fill="none" stroke="#FFD000" stroke-width="1.5" points="550.5,279.0 551.6,282.9"/>
<polygon fill="#FF7300" points="582.5,255.4 584.4,252.7 589.3,250.8 594.2,249.8 594.7,253.7 589.3,254.2"/>
<polygon fill="#FFA200" points="594.2,249.8 599.1,248.6 603.9,248.0 604.4,253.0 599.1,253.4 594.7,253.7"/>
<polygon fill="#FFF300" points="603.9,248.0 610.8,247.1 611.3,251.4 606.9,252.6 604.4,253.0"/>
<polygon fill="#AEFF51" points="610.8,247.1 618.6,246.2 619.8,249.8 615.7,250.8 611.3,251.4"/>
<path fill="#FFF300" d="M579 234h1v1h-1zM579 241h1v1h-1zM579 245h1v1h-1zM579 248h1v1h-1zM580 250h1v1h-1zM580 253h1v1h-1z"/>
<polygon fill="#FFA200" points="641.5,242.9 645.9,241.0 652.8,240.7 654.2,244.4 653.3,247.3 647.9,245.6 643.0,244.4"/>
<polygon fill="#FFF300" points="638.1,244.2 641.5,242.7 643.0,244.4 640.1,245.6"/>
<polygon fill="#FF4500" points="759.0,171.3 766.0,170.6 766.0,172.8 760.5,174.6"/>
<polygon fill="#FFA200" points="766.0,170.6 774.5,170.0 774.0,171.2 766.0,172.8"/>
<path fill="#FFF300" d="M729 201h1v1h-1zM730 202h1v1h-1z"/>
<polygon fill="#FFF300" points="261.7,454.0 271.1,450.8 275.8,455.5 278.9,459.4 285.9,465.7 291.4,470.4 296.8,473.5 294.5,475.8 289.8,472.7 285.1,468.8 278.9,472.7 272.6,475.1 267.9,473.5 263.2,475.1 257.8,473.5 253.1,470.4 251.5,465.7 257.8,461.8 263.2,459.4"/>
<path fill="#FFD000" d="M252 466h1v1h-1zM255 463h1v1h-1zM255 470h1v1h-1zM256 465h1v1h-1zM257 464h1v1h-1zM257 471h1v1h-1zM259 470h1v1h-1zM260 461h1v1h-1zM262 455h1v1h-1zM262 462h1v1h-1zM262 464h1v1h-1zM262 472h1v1h-1zM263 456h1v1h-1zM263 462h1v1h-1zM263 464h1v1h-1zM264 459h1v1h-1zM264 470h1v1h-1zM265 452h1v1h-1zM265 456h1v1h-1zM265 458h1v1h-1zM265 460h1v1h-1zM266 459h1v1h-1zM266 467h1v1h-1zM267 455h1v1h-1zM267 461h1v1h-1zM267 465h1v1h-1zM267 467h1v1h-1zM268 458h1v1h-1zM268 465h1v1h-1zM269 470h1v1h-1zM270 454h1v1h-1zM270 461h1v1h-1zM270 462h1v1h-1zM270 465h1v1h-1zM270 468h1v1h-1zM270 472h1v1h-1zM271 460h1v1h-1zM271 468h1v1h-1zM271 474h1v1h-1zM272 456h1v1h-1zM272 463h1v1h-1zM273 470h1v1h-1zM274 460h1v1h-1zM274 468h1v1h-1zM275 455h1v1h-1zM275 468h1v1h-1zM275 469h1v1h-1zM275 471h1v1h-1zM276 466h1v1h-1zM277 469h1v1h-1zM277 471h1v1h-1zM278 458h1v1h-1zM278 459h1v1h-1zM279 462h1v1h-1zM280 465h1v1h-1zM281 463h1v1h-1zM283 469h1v1h-1zM284 464h1v1h-1zM287 467h1v1h-1zM293 473h1v1h-1z"/>
<path fill="#D3D3D3" d="M253 466h1v1h-1zM253 468h1v1h-1zM256 466h1v1h-1zM256 467h1v1h-1zM257 464h1v1h-1zM259 462h1v1h-1zM259 464h1v1h-1zM259 467h1v1h-1zM259 472h1v1h-1zM261 472h1v1h-1zM261 474h1v1h-1zM262 456h1v1h-1zM262 461h1v1h-1zM262 463h1v1h-1zM262 472h1v1h-1zM262 473h1v1h-1zM263 473h1v1h-1zM264 453h1v1h-1zM264 455h1v1h-1zM264 464h1v1h-1zM265 456h1v1h-1zM265 464h1v1h-1zM265 466h1v1h-1zM265 471h1v1h-1zM265 472h1v1h-1zM265 473h1v1h-1zM265 474h1v1h-1zM266 458h1v1h-1zM266 464h1v1h-1zM266 466h1v1h-1zM266 467h1v1h-1zM267 469h1v1h-1zM267 470h1v1h-1zM269 454h1v1h-1zM269 460h1v1h-1zM269 465h1v1h-1zM270 451h1v1h-1zM270 455h1v1h-1zM270 470h1v1h-1zM271 454h1v1h-1zM271 472h1v1h-1zM272 453h1v1h-1zM272 459h1v1h-1zM272 464h1v1h-1zM272 473h1v1h-1zM273 459h1v1h-1zM273 468h1v1h-1zM274 455h1v1h-1zM274 461h1v1h-1zM275 457h1v1h-1zM276 458h1v1h-1zM276 460h1v1h-1zM276 473h1v1h-1zM277 459h1v1h-1zM278 461h1v1h-1zM278 463h1v1h-1zM278 467h1v1h-1zM279 471h1v1h-1zM280 465h1v1h-1zM281 467h1v1h-1zM282 466h1v1h-1zM282 469h1v1h-1zM286 466h1v1h-1zM287 469h1v1h-1zM287 471h1v1h-1zM288 470h1v1h-1zM289 471h1v1h-1zM291 472h1v1h-1zM292 473h1v1h-1zM293 472h1v1h-1z"/>
<path fill="#FFFFFF" d="M256 469h1v1h-1zM258 471h1v1h-1zM259 471h1v1h-1zM260 469h1v1h-1zM261 467h1v1h-1zM262 467h1v1h-1zM264 462h1v1h-1zM264 473h1v1h-1zM264 474h1v1h-1zM265 455h1v1h-1zM265 462h1v1h-1zM265 465h1v1h-1zM266 458h1v1h-1zM267 454h1v1h-1zM267 459h1v1h-1zM267 466h1v1h-1zM267 468h1v1h-1zM267 470h1v1h-1zM267 471h1v1h-1zM268 465h1v1h-1zM269 454h1v1h-1zM269 456h1v1h-1zM271 467h1v1h-1zM272 456h1v1h-1zM272 457h1v1h-1zM272 461h1v1h-1zM272 471h1v1h-1zM273 458h1v1h-1zM273 469h1v1h-1zM274 459h1v1h-1zM275 464h1v1h-1zM275 467h1v1h-1zM275 470h1v1h-1zM276 458h1v1h-1zM276 465h1v1h-1zM278 471h1v1h-1zM279 469h1v1h-1zM279 470h1v1h-1zM280 465h1v1h-1zM280 468h1v1h-1zM280 470h1v1h-1zM281 469h1v1h-1zM282 468h1v1h-1zM286 468h1v1h-1zM293 474h1v1h-1z"/>
<path fill="#DCFF23" d="M255 470h1v1h-1zM256 467h1v1h-1zM257 465h1v1h-1zM260 464h1v1h-1zM260 467h1v1h-1zM261 472h1v1h-1zM263 461h1v1h-1zM263 470h1v1h-1zM265 455h1v1h-1zM266 473h1v1h-1zM267 457h1v1h-1zM268 460h1v1h-1zM268 470h1v1h-1zM270 452h1v1h-1zM271 471h1v1h-1zM271 474h1v1h-1zM272 468h1v1h-1zM272 469h1v1h-1zM273 454h1v1h-1zM273 457h1v1h-1zM273 470h1v1h-1zM275 467h1v1h-1zM280 468h1v1h-1zM287 467h1v1h-1zM295 473h1v1h-1z"/>
<polygon fill="#AEFF51" points="271.8,453.6 275.8,451.6 282.0,453.6 282.8,455.9 278.9,457.5 274.2,457.1 271.5,455.9"/>
<polygon fill="#FFA200" points="278.9,461.8 282.8,460.6 286.3,462.2 285.9,465.7 282.8,466.9 279.7,465.3"/>
<polygon fill="#FF1400" points="252.2,455.5 255.4,455.1 258.6,458.3 264.8,464.9 266.4,466.3 263.2,466.6 255.4,462.6 252.5,459.4"/>
<polygon fill="#FF7300" points="255.4,465.3 264.8,466.1 266.4,469.6 263.2,471.5 257.8,470.4 254.7,468.0"/>
<polygon fill="#FFA200" points="257.8,468.8 263.2,469.2 265.6,470.8 263.2,472.1 259.3,471.5"/>
<polygon fill="#D3D3D3" points="286.7,458.3 291.4,457.5 291.8,461.8 288.2,462.6 286.7,461.0"/>
<path fill="#FFFFFF" d="M286 457h1v1h-1zM286 458h1v1h-1zM286 460h1v1h-1zM286 461h1v1h-1zM287 462h1v1h-1zM287 463h1v1h-1zM288 461h1v1h-1zM289 457h1v1h-1zM289 459h1v1h-1zM289 460h1v1h-1zM289 462h1v1h-1zM290 460h1v1h-1zM291 459h1v1h-1zM293 460h1v1h-1z"/>
<polyline fill="none" stroke="#FFF300" stroke-width="1.6" points="232.0,463.0 236.7,462.6 241.4,463.3 247.6,464.9 251.5,466.1"/>
<path fill="#D3D3D3" d="M232 461h1v1h-1zM232 463h1v1h-1zM232 464h1v1h-1zM233 464h1v1h-1zM234 462h1v1h-1zM236 464h1v1h-1zM237 462h1v1h-1zM239 464h1v1h-1zM240 463h1v1h-1zM241 463h1v1h-1zM243 463h1v1h-1zM243 464h1v1h-1zM243 465h1v1h-1zM245 464h1v1h-1zM245 465h1v1h-1zM246 463h1v1h-1z"/>
<path fill="#FFFFFF" d="M232 461h1v1h-1zM235 462h1v1h-1zM238 464h1v1h-1zM239 462h1v1h-1zM242 463h1v1h-1zM243 463h1v1h-1zM245 463h1v1h-1zM245 464h1v1h-1zM245 465h1v1h-1zM248 466h1v1h-1zM249 464h1v1h-1zM251 467h1v1h-1z"/>
<path fill="#FF7300" d="M232 458h1v1h-1zM232 459h1v1h-1zM234 459h1v1h-1zM234 460h1v1h-1zM236 459h1v1h-1z"/>
<polygon fill="#FF7300" points="205.3,458.5 213.0,456.4 215.9,461.0 210.0,463.4 206.0,462.5"/>
<polyline fill="none" stroke="#FFF300" stroke-width="1.5" points="215.9,462.5 226.0,464.5 232.0,465.5"/>
<path fill="#8B0000" d="M240 443h1v1h-1zM240 444h1v1h-1zM240 445h1v1h-1zM240 448h1v1h-1zM241 443h1v1h-1zM241 444h1v1h-1zM241 445h1v1h-1zM241 448h1v1h-1zM241 449h1v1h-1zM241 450h1v1h-1zM242 443h1v1h-1zM242 444h1v1h-1zM242 445h1v1h-1zM242 447h1v1h-1zM242 448h1v1h-1zM242 449h1v1h-1zM242 452h1v1h-1zM242 453h1v1h-1zM243 440h1v1h-1zM243 441h1v1h-1zM243 443h1v1h-1zM243 444h1v1h-1zM243 445h1v1h-1zM243 446h1v1h-1zM243 447h1v1h-1zM243 448h1v1h-1zM243 450h1v1h-1zM243 456h1v1h-1zM244 440h1v1h-1zM244 441h1v1h-1zM244 442h1v1h-1zM244 443h1v1h-1zM244 444h1v1h-1zM244 446h1v1h-1zM244 450h1v1h-1zM244 451h1v1h-1zM244 453h1v1h-1zM244 455h1v1h-1zM244 456h1v1h-1zM245 439h1v1h-1zM245 441h1v1h-1zM245 443h1v1h-1zM245 445h1v1h-1zM245 446h1v1h-1zM245 447h1v1h-1zM245 449h1v1h-1zM245 452h1v1h-1zM245 454h1v1h-1zM245 455h1v1h-1zM245 457h1v1h-1zM246 440h1v1h-1zM246 442h1v1h-1zM246 444h1v1h-1zM246 445h1v1h-1zM246 447h1v1h-1zM246 450h1v1h-1zM246 458h1v1h-1zM247 441h1v1h-1zM247 443h1v1h-1zM247 446h1v1h-1zM247 448h1v1h-1zM247 450h1v1h-1zM247 452h1v1h-1zM247 453h1v1h-1zM247 454h1v1h-1zM247 458h1v1h-1zM247 459h1v1h-1zM248 442h1v1h-1zM248 445h1v1h-1zM248 447h1v1h-1zM248 448h1v1h-1zM248 450h1v1h-1zM248 451h1v1h-1zM248 452h1v1h-1zM248 453h1v1h-1zM248 455h1v1h-1zM248 459h1v1h-1zM249 440h1v1h-1zM249 441h1v1h-1zM249 442h1v1h-1zM249 443h1v1h-1zM249 444h1v1h-1zM249 446h1v1h-1zM249 447h1v1h-1zM249 448h1v1h-1zM249 449h1v1h-1zM249 450h1v1h-1zM249 452h1v1h-1zM249 453h1v1h-1zM249 455h1v1h-1zM249 456h1v1h-1zM249 458h1v1h-1zM249 459h1v1h-1zM250 441h1v1h-1zM250 442h1v1h-1zM250 443h1v1h-1zM250 444h1v1h-1zM250 445h1v1h-1zM250 446h1v1h-1zM250 447h1v1h-1zM250 448h1v1h-1zM250 449h1v1h-1zM250 450h1v1h-1zM250 451h1v1h-1zM250 452h1v1h-1zM250 453h1v1h-1zM250 454h1v1h-1zM250 457h1v1h-1zM251 445h1v1h-1zM251 446h1v1h-1zM251 447h1v1h-1zM251 448h1v1h-1zM251 449h1v1h-1zM251 451h1v1h-1zM251 453h1v1h-1zM251 454h1v1h-1zM251 456h1v1h-1zM251 458h1v1h-1zM251 459h1v1h-1zM252 442h1v1h-1zM252 445h1v1h-1zM252 447h1v1h-1zM252 448h1v1h-1zM252 449h1v1h-1zM252 450h1v1h-1zM252 451h1v1h-1zM252 452h1v1h-1zM252 453h1v1h-1zM252 454h1v1h-1zM252 455h1v1h-1zM252 456h1v1h-1zM252 458h1v1h-1zM253 445h1v1h-1zM253 446h1v1h-1zM253 451h1v1h-1zM253 453h1v1h-1zM253 455h1v1h-1zM253 456h1v1h-1zM254 445h1v1h-1zM254 446h1v1h-1zM254 447h1v1h-1zM254 448h1v1h-1zM254 449h1v1h-1zM254 450h1v1h-1zM254 451h1v1h-1zM254 452h1v1h-1zM254 453h1v1h-1zM254 454h1v1h-1zM254 455h1v1h-1zM255 453h1v1h-1z"/>
<path fill="#8B0000" d="M232 454h1v1h-1zM233 454h1v1h-1zM233 458h1v1h-1zM234 454h1v1h-1zM234 457h1v1h-1zM235 455h1v1h-1zM237 454h1v1h-1zM239 458h1v1h-1zM240 454h1v1h-1zM241 456h1v1h-1z"/>
<path fill="#8B0000" d="M256 450h1v1h-1zM256 451h1v1h-1zM256 454h1v1h-1zM257 449h1v1h-1zM257 453h1v1h-1zM258 451h1v1h-1zM258 454h1v1h-1zM259 454h1v1h-1zM260 454h1v1h-1zM262 453h1v1h-1zM263 450h1v1h-1zM263 455h1v1h-1zM264 450h1v1h-1zM264 453h1v1h-1zM266 451h1v1h-1zM266 452h1v1h-1z"/>
<path fill="#8B0000" d="M280 449h1v1h-1zM280 450h1v1h-1zM281 448h1v1h-1zM282 450h1v1h-1zM289 451h1v1h-1zM290 448h1v1h-1zM292 449h1v1h-1zM293 449h1v1h-1zM296 449h1v1h-1zM298 449h1v1h-1zM298 451h1v1h-1zM299 448h1v1h-1zM302 448h1v1h-1zM303 449h1v1h-1zM305 448h1v1h-1zM305 451h1v1h-1zM306 449h1v1h-1zM306 451h1v1h-1zM307 450h1v1h-1zM308 447h1v1h-1zM308 449h1v1h-1zM309 447h1v1h-1z"/>
<path fill="#8B0000" d="M302 442h1v1h-1zM302 443h1v1h-1zM303 441h1v1h-1zM303 444h1v1h-1zM304 444h1v1h-1zM306 448h1v1h-1zM307 446h1v1h-1z"/>
<path fill="#FF7300" d="M282 451h1v1h-1zM286 453h1v1h-1zM288 450h1v1h-1zM289 452h1v1h-1zM291 451h1v1h-1z"/>
<polygon fill="#FFFFFF" points="777.4,161.0 829.9,161.0 827.4,164.3 820.1,165.9 814.0,164.6 807.9,166.3 800.6,165.1 793.2,164.3 781.0,163.7"/>
<polygon fill="#FFFFFF" points="743.8,191.3 747.5,191.1 747.3,193.6 744.2,193.4"/>
<polygon fill="#FFFFFF" points="332.5,162.5 372.1,162.5 374.7,165.3 372.9,168.8 369.4,171.0 365.5,172.7 365.0,177.6 363.3,181.5 360.6,179.8 360.6,176.7 357.1,178.9 352.7,180.7 349.7,183.7 348.8,189.0 345.3,195.2 345.7,199.6 344.4,203.1 346.1,207.5 348.8,211.0 350.1,217.1 349.2,223.3 346.6,229.4 342.2,235.8 336.0,239.5 327.2,240.4 323.7,237.3 320.2,230.3 319.8,223.3 320.2,217.1 318.0,210.5 320.7,204.8 321.5,198.7 324.6,193.4 325.0,189.9 328.1,182.0 329.0,180.7 329.9,177.6 332.5,174.1 336.0,171.0 333.4,172.7 330.3,176.3 328.1,179.8 326.4,180.7 322.9,182.0 320.2,184.6 317.1,186.4 315.6,185.5 317.1,181.5 319.8,178.9 322.9,177.1 324.6,174.1 328.1,169.7 330.8,166.2"/>
<polygon fill="#FFFFFF" points="307.0,193.0 309.2,192.3 311.0,193.4 310.7,196.9 308.8,199.6 307.2,197.4"/>
<polygon fill="#FFFFFF" points="384.3,162.6 388.6,167.5 395.1,170.2 402.6,172.9 403.7,176.1 401.5,177.7 403.7,181.5 403.1,189.0 399.9,191.2 398.3,194.9 394.0,196.5 391.9,201.4 397.2,204.0 401.5,201.9 404.7,197.6 411.2,195.4 415.5,198.7 417.6,204.0 419.8,210.5 421.4,214.8 427.3,212.6 433.8,208.9 434.3,194.4 440.2,187.9 443.4,184.2 441.8,179.3 439.1,175.0 436.4,173.4 441.3,173.4 444.0,177.7 446.6,179.3 448.8,184.7 454.2,183.6 459.5,185.8 464.4,187.4 466.5,181.5 472.4,182.6 471.3,179.3 466.5,176.1 463.8,170.7 459.5,167.5 456.3,162.6"/>
<polygon fill="#D3D3D3" points="418.7,162.6 425.2,165.4 430.5,167.0 434.8,163.8 435.4,162.6"/>
<polygon fill="#D3D3D3" points="371.4,170.2 372.5,166.4 374.7,163.8 384.3,163.2 384.3,162.6 365.0,162.6 365.0,163.2 367.1,163.2"/>
<polygon fill="#FFFFFF" points="365.0,163.0 373.1,163.0 371.7,167.5 370.9,170.2 365.0,172.0"/>
<polygon fill="#FFFFFF" points="401.7,239.1 407.9,232.9 409.6,228.6 413.2,227.7 414.9,221.5 417.6,221.5 421.1,225.9 418.4,228.6 422.0,230.3 432.5,225.9 441.3,222.4 453.6,221.5 460.6,218.9 471.2,217.1 481.7,214.5 486.1,213.6 487.0,218.0 481.7,222.4 471.2,227.7 460.6,232.1 450.1,236.5 439.5,240.0 432.5,242.6 420.2,245.2 411.4,243.5 406.1,241.7"/>
<polygon fill="#FFFFFF" points="471.5,207.5 476.5,202.5 489.0,198.8 509.0,196.2 524.0,195.0 534.0,196.2 537.0,201.2 534.0,206.2 521.5,209.5 504.0,209.5 486.5,212.0 476.5,211.2"/>
<polyline fill="none" stroke="#FFFFFF" stroke-width="1" points="534.0,195.0 544.0,188.8 559.0,180.0 574.0,172.5 584.0,168.8 589.0,163.8"/>
<polyline fill="none" stroke="#FFFFFF" stroke-width="1" points="526.5,163.8 534.0,168.8 544.0,171.2 559.0,167.5 574.0,166.2 589.0,163.8"/>
<polyline fill="none" stroke="#FFFFFF" stroke-width="1.3" points="592.2,177.0 593.5,185.0 590.5,197.5 584.0,206.5"/>
<polyline fill="none" stroke="#FFFFFF" stroke-width="0.9" points="516.5,217.0 519.0,225.5"/>
<polyline fill="none" stroke="#FFFFFF" stroke-width="0.9" points="521.0,218.0 522.0,225.5"/>
<polyline fill="none" stroke="#FFFFFF" stroke-width="0.9" points="525.2,218.0 524.0,226.2"/>
<polyline fill="none" stroke="#FFFFFF" stroke-width="0.9" points="528.5,217.0 530.2,222.5"/>
<polyline fill="none" stroke="#FFFFFF" stroke-width="0.9" points="532.8,216.2 535.8,220.0"/>
<polyline fill="none" stroke="#FFFFFF" stroke-width="1.5" points="538.5,210.5 546.0,211.8"/>
<polygon fill="#FFFFFF" points="148.0,383.0 153.0,385.0 154.2,382.0 157.0,382.0 157.0,387.0 151.8,387.5 148.5,385.0"/>
<polygon fill="#FFFFFF" points="213.0,371.5 219.2,371.0 218.5,373.0 213.5,373.0"/>
<polyline fill="none" stroke="#FFFFFF" stroke-width="1.2" points="311.8,327.0 314.2,335.0 316.8,346.2"/>
<polyline fill="none" stroke="#FFFFFF" stroke-width="1.0" points="315.0,327.0 318.0,332.5 316.0,340.0 318.5,346.2"/>
<polyline fill="none" stroke="#FFFFFF" stroke-width="1.0" points="323.0,368.0 330.5,369.5 336.8,372.5"/>
<polygon fill="#FFFFFF" points="364.2,334.5 368.5,333.2 370.5,335.5 365.5,336.5"/>
<polyline fill="none" stroke="#FFFFFF" stroke-width="1.0" points="231.8,185.0 239.2,188.0"/>
<polyline fill="none" stroke="#FFFFFF" stroke-width="0.9" points="254.2,197.5 256.0,205.0 258.0,212.5"/>
<polygon fill="#FFFFFF" points="278.0,193.0 280.5,192.5 280.5,198.8 278.0,198.0"/>
<polygon fill="#FFFFFF" points="306.8,193.0 310.5,192.5 311.0,197.5 308.5,199.5 307.0,197.5"/>
<polyline fill="none" stroke="#FFFFFF" stroke-width="0.8" points="299.2,193.2 306.8,193.8"/>
<polygon fill="#FFFFFF" points="141.0,170.0 142.8,169.8 143.0,171.2 141.2,171.5"/>
<polygon fill="#FFFFFF" points="143.0,179.5 144.8,179.2 145.0,180.8 143.2,181.0"/>
<polygon fill="#FFFFFF" points="146.8,184.5 148.5,184.2 148.8,185.8 147.0,186.0"/>
<polygon fill="#FFFFFF" points="199.2,190.0 201.0,189.8 201.2,191.2 199.5,191.5"/>
<polygon fill="#FFFFFF" points="181.0,201.2 182.8,201.0 183.0,202.5 181.2,202.8"/>
<polygon fill="#FFFFFF" points="257.5,172.0 259.2,171.8 259.5,173.2 257.8,173.5"/>
<polygon fill="#FFFFFF" points="288.0,212.5 289.8,212.2 290.0,213.8 288.2,214.0"/>
<polygon fill="#FFFFFF" points="298.0,200.0 299.8,199.8 300.0,201.2 298.2,201.5"/>
<polygon fill="#FFFFFF" points="141.8,190.0 143.5,189.8 143.8,191.2 142.0,191.5"/>
<polygon fill="#FFFFFF" points="151.8,165.0 153.5,164.8 153.8,166.2 152.0,166.5"/>
<polygon fill="#FFFFFF" points="174.2,166.2 176.0,166.0 176.2,167.5 174.5,167.8"/>
<polygon fill="#FFFFFF" points="188.0,172.5 189.8,172.2 190.0,173.8 188.2,174.0"/>
<polygon fill="#FFFFFF" points="378.0,189.5 379.8,189.2 380.0,190.8 378.2,191.0"/>
<polygon fill="#FFFFFF" points="313.0,226.2 314.8,226.0 315.0,227.5 313.2,227.8"/>
<polygon fill="#FFFFFF" points="349.2,392.5 351.0,392.2 351.2,393.8 349.5,394.0"/>
<polygon fill="#FFFFFF" points="344.2,402.5 346.0,402.2 346.2,403.8 344.5,404.0"/>
<polyline fill="none" stroke="#FFFFFF" stroke-width="1.6" points="203.5,421.5 206.8,424.8 208.5,431.0 211.2,435.5"/>
<polygon fill="#FFFFFF" points="373.5,441.5 378.0,441.0 378.8,444.0 375.0,445.0"/>
<path fill="#FFFFFF" d="M442 470h1v1h-1zM443 471h1v1h-1zM446 476h1v1h-1zM447 481h1v1h-1zM448 486h1v1h-1zM446 488h1v1h-1zM449 492h1v1h-1zM450 495h1v1h-1zM447 505h1v1h-1zM437 481h1v1h-1z"/>
<polyline fill="none" stroke="#FFFFFF" stroke-width="1.3" points="471.5,323.8 475.2,325.8"/>
<polyline fill="none" stroke="#FFFFFF" stroke-width="1.6" points="490.2,332.5 497.8,335.5"/>
<polyline fill="none" stroke="#FFFFFF" stroke-width="1.3" points="501.5,335.8 509.0,337.0"/>
<polyline fill="none" stroke="#FFFFFF" stroke-width="1.6" points="390.2,379.5 394.5,375.5"/>
<polyline fill="none" stroke="#FFFFFF" stroke-width="1.4" points="407.8,373.0 414.0,375.5"/>
<polyline fill="none" stroke="#FFFFFF" stroke-width="1.4" points="417.8,384.5 424.0,388.8"/>
<polyline fill="none" stroke="#FFFFFF" stroke-width="1.2" points="437.8,381.5 443.5,382.0"/>
<polyline fill="none" stroke="#FFFFFF" stroke-width="1.2" points="456.5,391.2 464.0,395.0"/>
<polyline fill="none" stroke="#FFFFFF" stroke-width="1.0" points="477.0,229.5 479.5,231.5"/>
<polygon fill="#FFFFFF" points="474.0,187.0 477.8,183.8 480.2,187.5 481.5,190.0 475.2,191.2"/>
<polyline fill="none" stroke="#FFFFFF" stroke-width="1.2" points="489.0,185.0 495.2,187.0 501.5,185.0"/>
<polygon fill="#FFFFFF" points="626.0,202.0 630.2,203.8 631.0,206.2 627.0,205.0"/>
<polygon fill="#FFFFFF" points="609.0,225.5 611.5,224.5 611.0,228.0 609.0,228.8"/>
<polyline fill="none" stroke="#FFFFFF" stroke-width="1.2" points="533.5,183.8 537.8,181.2 535.2,187.0"/>
<polygon fill="#FFFFFF" points="657.5,163.5 661.0,164.0 661.5,166.0 658.5,166.5"/>
<polygon fill="#FFFFFF" points="672.5,163.5 676.0,164.0 676.5,166.0 673.5,166.5"/>
<polygon fill="#FFFFFF" points="695.0,163.5 698.5,164.0 699.0,166.0 696.0,166.5"/>
<polygon fill="#FFFFFF" points="637.5,178.8 641.0,179.2 641.5,181.2 638.5,181.8"/>
<polygon fill="#FFFFFF" points="626.2,202.5 629.8,203.0 630.2,205.0 627.2,205.5"/>
<polygon fill="#FFFFFF" points="610.0,225.5 613.5,226.0 614.0,228.0 611.0,228.5"/>
<polygon fill="#FFFFFF" points="610.5,175.0 614.0,175.5 614.5,177.5 611.5,178.0"/>
<polygon fill="#FFFFFF" points="643.8,197.5 647.2,198.0 647.8,200.0 644.8,200.5"/>
<polygon fill="#FFFFFF" points="745.0,191.2 748.5,191.8 749.0,193.8 746.0,194.2"/>
<polygon fill="#FFFFFF" points="760.0,175.5 763.5,176.0 764.0,178.0 761.0,178.5"/>
<polygon fill="#FFFFFF" points="780.0,163.5 783.5,164.0 784.0,166.0 781.0,166.5"/>
<polygon fill="#FFFFFF" points="805.0,163.5 808.5,164.0 809.0,166.0 806.0,166.5"/>
<polygon fill="#FFFFFF" points="243.0,669.5 254.2,668.0 256.0,671.2 250.5,674.0 244.2,673.0"/>
<polygon fill="#FFFFFF" points="208.0,698.8 214.2,698.0 216.0,701.0 210.5,701.5"/>
<polygon fill="#FFFFFF" points="224.2,715.0 233.0,718.8 239.2,722.5 238.0,724.0 230.5,721.2 225.0,718.0"/>
<polygon fill="#FFFFFF" points="291.8,728.8 298.0,727.0 298.5,730.5 293.0,732.5"/>
<polygon fill="#FFFFFF" points="154.2,675.0 157.5,677.0 159.5,680.5 156.0,680.0"/>
<polygon fill="#FFFFFF" points="319.2,768.8 325.5,770.0 328.0,773.8 329.2,777.0 325.5,776.2 321.8,772.5"/>
<polygon fill="#FFFFFF" points="309.8,676.2 314.2,667.4 316.4,668.8 318.6,677.6 315.6,674.7 313.4,676.9"/>
<polygon fill="#FFFFFF" points="321.8,655.0 326.0,650.5 328.0,652.0 324.5,657.0 322.5,660.0"/>
<ellipse fill="#FFFFFF" cx="328.2" cy="671.7" rx="1.6" ry="3.0" transform="rotate(20 328.2 671.7)"/>
<polygon fill="#FFFFFF" points="343.0,788.0 350.0,787.5 350.5,791.0 345.0,791.5"/>
<polyline fill="none" stroke="#FFFFFF" stroke-width="1" points="274.2,701.2 285.5,700.8 291.8,700.0"/>
<polygon fill="#FFFFFF" points="174.2,710.5 176.2,710.5 176.5,712.2 174.5,712.5"/>
<polygon fill="#FFFFFF" points="189.2,685.0 191.2,685.0 191.5,686.8 189.5,687.0"/>
<polygon fill="#FFFFFF" points="255.5,743.8 257.5,743.8 257.8,745.5 255.8,745.8"/>
<polygon fill="#FFFFFF" points="300.5,757.5 302.5,757.5 302.8,759.2 300.8,759.5"/>
<polygon fill="#FFFFFF" points="315.5,740.0 317.5,740.0 317.8,741.8 315.8,742.0"/>
<polygon fill="#FFFFFF" points="296.8,763.0 298.8,763.0 299.0,764.8 297.0,765.0"/>
<polygon fill="#FFFFFF" points="354.2,772.5 356.2,772.5 356.5,774.2 354.5,774.5"/>
<polygon fill="#FFFFFF" points="288.0,752.5 290.0,752.5 290.2,754.2 288.2,754.5"/>
<polyline fill="none" stroke="#DCFF23" stroke-width="1.3" points="140.5,512.0 140.6,521.0 143.0,533.5 138.5,545.0"/>
<polyline fill="none" stroke="#DCFF23" stroke-width="1.2" points="146.5,498.0 150.0,493.0 154.0,489.5"/>
<polyline fill="none" stroke="#FFFFFF" stroke-width="1.1" points="439.9,444.4 439.9,436.2 442.3,429.1 447.0,422.1 452.8,416.2 459.8,411.6 466.9,408.0 473.9,403.4 479.8,398.7 483.3,392.8 488.0,388.1 495.0,385.8 502.0,385.2 505.5,383.4 506.7,378.8 512.6,374.1 519.9,372.5 528.1,370.8 532.8,371.4 538.7,365.5 544.5,362.0 550.4,359.6 551.6,353.8 546.9,342.1 543.4,331.5 542.2,328.0 546.9,318.6 551.6,312.8 556.3,306.9 558.6,299.9"/>
<polyline fill="none" stroke="#FFFFFF" stroke-width="1.0" points="440.4,451.7 441.5,458.8 443.3,465.8 446.8,472.8 451.5,481.0 455.0,488.1 457.4,496.3 459.7,503.3 462.1,509.2 465.0,516.2 465.6,522.1 465.0,531.4"/>
<polyline fill="none" stroke="#FFFFFF" stroke-width="0.9" points="392.9,457.6 397.6,461.1 402.3,465.2 407.0,470.5 411.7,474.0 416.3,477.5 417.5,483.4 415.2,490.4 414.6,496.3 416.3,501.0 419.9,506.8 423.4,513.9 426.9,519.7 431.6,524.4 433.9,530.3 437.4,533.8 442.1,537.3 445.7,543.2"/>
<polyline fill="none" stroke="#FFFFFF" stroke-width="0.9" points="142.1,520.0 142.9,509.1 147.3,498.6 154.4,490.6 163.2,484.5 173.7,479.2 184.2,473.9 193.0,467.8 201.8,464.3"/>
<polyline fill="none" stroke="#FFFFFF" stroke-width="0.9" points="313.2,452.2 318.9,452.2 325.9,452.9 333.5,450.9 341.1,451.6 348.7,452.2 356.3,454.8 361.4,457.3 365.2,461.1 369.0,463.6 375.4,464.3 380.4,461.1 385.5,457.3 390.6,456.0"/>
<polyline fill="none" stroke="#FFFFFF" stroke-width="0.9" points="562.1,290.5 559.8,294.0 558.6,299.9 556.3,306.9 551.6,312.8 546.9,318.6 542.2,328.0"/>
<polyline fill="none" stroke="#FFFFFF" stroke-width="0.9" points="563.9,290.0 567.8,284.5 572.7,279.6 576.1,275.7 577.6,268.8 578.6,263.0"/>
<path fill="#8B0000" d="M136 519h1v1h-1zM137 510h1v1h-1zM137 516h1v1h-1zM137 538h1v1h-1zM137 540h1v1h-1zM138 517h1v1h-1zM138 526h1v1h-1zM138 527h1v1h-1zM138 528h1v1h-1zM138 535h1v1h-1zM139 505h1v1h-1zM139 507h1v1h-1zM139 512h1v1h-1zM139 518h1v1h-1zM139 525h1v1h-1zM139 531h1v1h-1zM139 533h1v1h-1zM139 536h1v1h-1zM139 539h1v1h-1zM139 541h1v1h-1zM140 503h1v1h-1zM140 504h1v1h-1zM140 505h1v1h-1zM140 511h1v1h-1zM140 513h1v1h-1zM140 524h1v1h-1zM140 525h1v1h-1zM140 535h1v1h-1zM140 538h1v1h-1zM140 541h1v1h-1zM141 505h1v1h-1zM141 511h1v1h-1zM141 520h1v1h-1zM141 527h1v1h-1zM141 528h1v1h-1zM141 529h1v1h-1zM141 530h1v1h-1zM141 531h1v1h-1zM141 532h1v1h-1zM141 533h1v1h-1zM141 534h1v1h-1zM141 539h1v1h-1zM142 529h1v1h-1zM143 500h1v1h-1zM143 501h1v1h-1zM143 502h1v1h-1zM143 504h1v1h-1zM144 496h1v1h-1zM144 499h1v1h-1zM144 500h1v1h-1zM144 501h1v1h-1zM144 503h1v1h-1zM145 499h1v1h-1zM145 500h1v1h-1zM145 501h1v1h-1zM146 491h1v1h-1zM148 495h1v1h-1zM148 496h1v1h-1zM148 497h1v1h-1zM149 493h1v1h-1zM149 494h1v1h-1zM149 495h1v1h-1zM150 488h1v1h-1zM150 489h1v1h-1zM152 492h1v1h-1zM153 487h1v1h-1zM153 489h1v1h-1zM154 488h1v1h-1zM156 484h1v1h-1zM156 485h1v1h-1zM156 486h1v1h-1zM159 483h1v1h-1zM159 484h1v1h-1zM160 484h1v1h-1z"/>
<path fill="#8B0000" d="M163 479h1v1h-1zM164 479h1v1h-1zM164 482h1v1h-1zM164 483h1v1h-1zM164 484h1v1h-1zM165 478h1v1h-1zM165 479h1v1h-1zM166 478h1v1h-1zM167 479h1v1h-1zM168 480h1v1h-1zM169 478h1v1h-1zM169 479h1v1h-1zM169 480h1v1h-1zM170 474h1v1h-1zM170 476h1v1h-1zM171 474h1v1h-1zM171 476h1v1h-1zM172 476h1v1h-1zM172 477h1v1h-1zM173 478h1v1h-1zM174 477h1v1h-1zM178 475h1v1h-1zM179 474h1v1h-1zM181 470h1v1h-1zM182 470h1v1h-1zM182 473h1v1h-1zM184 472h1v1h-1zM185 469h1v1h-1zM185 472h1v1h-1zM186 469h1v1h-1zM186 470h1v1h-1zM188 465h1v1h-1zM189 469h1v1h-1zM190 463h1v1h-1zM191 465h1v1h-1zM192 461h1v1h-1zM192 462h1v1h-1zM192 465h1v1h-1zM193 464h1v1h-1zM195 463h1v1h-1zM196 460h1v1h-1zM197 463h1v1h-1zM198 462h1v1h-1zM198 463h1v1h-1z"/>
<path fill="#8B0000" d="M201 462h1v1h-1zM202 459h1v1h-1zM202 463h1v1h-1zM203 456h1v1h-1zM203 461h1v1h-1zM204 459h1v1h-1zM204 462h1v1h-1zM204 463h1v1h-1zM205 462h1v1h-1zM206 461h1v1h-1zM207 460h1v1h-1zM209 458h1v1h-1zM210 456h1v1h-1zM210 461h1v1h-1zM211 456h1v1h-1zM212 458h1v1h-1zM213 459h1v1h-1zM214 459h1v1h-1zM214 461h1v1h-1zM215 458h1v1h-1zM215 460h1v1h-1zM215 462h1v1h-1zM216 460h1v1h-1zM217 458h1v1h-1zM217 459h1v1h-1zM219 458h1v1h-1zM220 456h1v1h-1zM221 458h1v1h-1zM222 455h1v1h-1zM222 456h1v1h-1zM224 459h1v1h-1zM225 463h1v1h-1zM226 459h1v1h-1zM226 460h1v1h-1zM227 462h1v1h-1zM228 457h1v1h-1zM228 462h1v1h-1zM229 458h1v1h-1zM229 461h1v1h-1zM229 462h1v1h-1zM230 464h1v1h-1zM231 460h1v1h-1zM232 463h1v1h-1zM233 458h1v1h-1zM233 463h1v1h-1zM234 464h1v1h-1zM236 462h1v1h-1zM236 463h1v1h-1z"/>
<path fill="#8B0000" d="M305 449h1v1h-1zM311 451h1v1h-1zM316 452h1v1h-1zM319 448h1v1h-1zM319 449h1v1h-1zM327 449h1v1h-1zM332 451h1v1h-1zM335 448h1v1h-1zM338 450h1v1h-1zM341 449h1v1h-1zM348 449h1v1h-1zM348 451h1v1h-1zM351 452h1v1h-1zM354 450h1v1h-1zM354 452h1v1h-1zM355 454h1v1h-1zM355 455h1v1h-1z"/>
<path fill="#8B0000" d="M367 457h1v1h-1zM367 460h1v1h-1zM368 459h1v1h-1zM368 460h1v1h-1zM371 461h1v1h-1zM373 460h1v1h-1zM373 462h1v1h-1zM374 461h1v1h-1zM375 460h1v1h-1zM378 457h1v1h-1zM378 458h1v1h-1zM380 456h1v1h-1zM380 458h1v1h-1zM386 451h1v1h-1zM386 453h1v1h-1zM388 455h1v1h-1zM389 457h1v1h-1zM391 455h1v1h-1zM392 454h1v1h-1zM393 454h1v1h-1zM394 453h1v1h-1zM394 457h1v1h-1zM395 455h1v1h-1zM395 456h1v1h-1zM396 455h1v1h-1zM396 457h1v1h-1z"/>
<path fill="#8B0000" d="M392 456h1v1h-1zM392 457h1v1h-1zM393 455h1v1h-1zM394 457h1v1h-1zM395 458h1v1h-1zM395 459h1v1h-1zM396 458h1v1h-1zM397 456h1v1h-1zM397 457h1v1h-1zM397 458h1v1h-1zM397 459h1v1h-1zM398 457h1v1h-1zM398 459h1v1h-1zM399 457h1v1h-1zM399 459h1v1h-1zM400 461h1v1h-1zM401 458h1v1h-1zM401 459h1v1h-1zM401 460h1v1h-1zM401 461h1v1h-1zM401 462h1v1h-1zM402 460h1v1h-1zM402 461h1v1h-1zM404 465h1v1h-1zM404 466h1v1h-1zM404 467h1v1h-1zM405 464h1v1h-1zM405 468h1v1h-1zM406 468h1v1h-1zM407 468h1v1h-1zM407 469h1v1h-1zM407 472h1v1h-1zM408 468h1v1h-1zM408 469h1v1h-1zM408 471h1v1h-1zM409 468h1v1h-1zM410 469h1v1h-1zM412 470h1v1h-1zM412 471h1v1h-1zM412 474h1v1h-1zM413 473h1v1h-1zM413 476h1v1h-1zM414 472h1v1h-1zM414 474h1v1h-1zM414 475h1v1h-1zM414 476h1v1h-1zM414 477h1v1h-1zM416 472h1v1h-1zM416 473h1v1h-1zM416 477h1v1h-1zM417 473h1v1h-1zM417 478h1v1h-1zM419 476h1v1h-1zM419 477h1v1h-1z"/>
<path fill="#8B0000" d="M417 498h1v1h-1zM417 500h1v1h-1zM417 502h1v1h-1zM419 498h1v1h-1zM419 499h1v1h-1zM420 502h1v1h-1zM420 503h1v1h-1zM421 505h1v1h-1zM423 504h1v1h-1zM423 505h1v1h-1zM423 506h1v1h-1zM423 509h1v1h-1zM423 511h1v1h-1zM423 512h1v1h-1zM423 513h1v1h-1zM424 514h1v1h-1zM424 515h1v1h-1zM426 510h1v1h-1zM426 513h1v1h-1zM426 514h1v1h-1zM426 515h1v1h-1zM426 519h1v1h-1zM427 512h1v1h-1zM427 520h1v1h-1zM428 515h1v1h-1zM428 518h1v1h-1zM428 519h1v1h-1zM429 515h1v1h-1zM429 518h1v1h-1zM429 519h1v1h-1zM431 518h1v1h-1z"/>
<path fill="#8B0000" d="M433 452h1v1h-1zM434 451h1v1h-1zM435 447h1v1h-1zM435 450h1v1h-1zM436 454h1v1h-1zM436 457h1v1h-1zM436 459h1v1h-1zM437 444h1v1h-1zM437 445h1v1h-1zM437 447h1v1h-1zM437 448h1v1h-1zM437 451h1v1h-1zM437 457h1v1h-1zM437 458h1v1h-1zM437 459h1v1h-1zM437 460h1v1h-1zM437 461h1v1h-1zM437 462h1v1h-1zM438 444h1v1h-1zM438 449h1v1h-1zM438 454h1v1h-1zM438 460h1v1h-1zM438 463h1v1h-1zM438 464h1v1h-1zM438 466h1v1h-1zM439 450h1v1h-1zM439 451h1v1h-1zM439 452h1v1h-1zM439 454h1v1h-1zM439 455h1v1h-1zM439 462h1v1h-1zM439 463h1v1h-1zM439 464h1v1h-1zM440 450h1v1h-1zM440 452h1v1h-1zM440 457h1v1h-1zM440 458h1v1h-1zM440 459h1v1h-1zM440 460h1v1h-1zM440 461h1v1h-1zM440 462h1v1h-1zM440 464h1v1h-1zM441 461h1v1h-1zM441 462h1v1h-1zM441 464h1v1h-1zM441 466h1v1h-1zM441 468h1v1h-1zM441 469h1v1h-1zM441 471h1v1h-1zM441 473h1v1h-1zM442 461h1v1h-1zM442 463h1v1h-1zM442 465h1v1h-1zM442 466h1v1h-1zM442 467h1v1h-1zM442 470h1v1h-1zM442 472h1v1h-1zM443 464h1v1h-1zM443 472h1v1h-1zM444 471h1v1h-1zM444 472h1v1h-1zM445 469h1v1h-1zM445 473h1v1h-1zM445 476h1v1h-1zM446 473h1v1h-1zM446 474h1v1h-1zM446 475h1v1h-1zM446 478h1v1h-1zM446 479h1v1h-1zM447 477h1v1h-1zM447 480h1v1h-1zM447 481h1v1h-1zM447 482h1v1h-1zM447 483h1v1h-1zM448 476h1v1h-1zM448 481h1v1h-1zM448 482h1v1h-1zM448 486h1v1h-1zM449 479h1v1h-1zM449 483h1v1h-1zM449 485h1v1h-1zM450 480h1v1h-1zM450 482h1v1h-1zM450 483h1v1h-1zM451 481h1v1h-1zM451 482h1v1h-1zM451 488h1v1h-1zM452 484h1v1h-1zM452 485h1v1h-1zM452 487h1v1h-1zM453 486h1v1h-1z"/>
<path fill="#8B0000" d="M433 438h1v1h-1zM434 436h1v1h-1zM434 438h1v1h-1zM434 440h1v1h-1zM434 441h1v1h-1zM434 442h1v1h-1zM435 433h1v1h-1zM435 438h1v1h-1zM435 439h1v1h-1zM436 427h1v1h-1zM436 428h1v1h-1zM436 430h1v1h-1zM436 433h1v1h-1zM436 434h1v1h-1zM436 440h1v1h-1zM436 442h1v1h-1zM437 426h1v1h-1zM437 428h1v1h-1zM437 429h1v1h-1zM437 433h1v1h-1zM437 439h1v1h-1zM437 440h1v1h-1zM437 441h1v1h-1zM437 442h1v1h-1zM437 443h1v1h-1zM438 423h1v1h-1zM438 428h1v1h-1zM438 429h1v1h-1zM438 430h1v1h-1zM438 433h1v1h-1zM438 434h1v1h-1zM438 436h1v1h-1zM438 438h1v1h-1zM438 439h1v1h-1zM438 441h1v1h-1zM438 442h1v1h-1zM439 422h1v1h-1zM439 423h1v1h-1zM439 424h1v1h-1zM439 426h1v1h-1zM439 429h1v1h-1zM439 433h1v1h-1zM439 434h1v1h-1zM439 436h1v1h-1zM439 438h1v1h-1zM439 439h1v1h-1zM439 440h1v1h-1zM439 443h1v1h-1zM440 430h1v1h-1zM440 431h1v1h-1zM440 433h1v1h-1zM440 443h1v1h-1zM441 423h1v1h-1zM441 424h1v1h-1zM441 425h1v1h-1zM441 426h1v1h-1zM441 427h1v1h-1zM441 429h1v1h-1zM442 422h1v1h-1zM442 424h1v1h-1zM442 425h1v1h-1zM442 428h1v1h-1zM442 430h1v1h-1zM443 425h1v1h-1zM444 419h1v1h-1zM444 420h1v1h-1zM444 421h1v1h-1zM444 423h1v1h-1zM444 424h1v1h-1zM444 425h1v1h-1zM445 421h1v1h-1zM445 422h1v1h-1zM446 415h1v1h-1zM446 419h1v1h-1zM446 420h1v1h-1zM446 421h1v1h-1zM446 423h1v1h-1zM447 414h1v1h-1zM447 417h1v1h-1zM448 417h1v1h-1zM449 415h1v1h-1zM449 416h1v1h-1zM449 417h1v1h-1zM449 418h1v1h-1zM449 419h1v1h-1zM450 416h1v1h-1zM450 417h1v1h-1zM450 418h1v1h-1z"/>
<path fill="#8B0000" d="M450 411h1v1h-1zM450 414h1v1h-1zM451 409h1v1h-1zM451 411h1v1h-1zM453 413h1v1h-1zM453 414h1v1h-1zM454 409h1v1h-1zM454 412h1v1h-1zM454 413h1v1h-1zM454 414h1v1h-1zM454 415h1v1h-1zM455 406h1v1h-1zM455 411h1v1h-1zM455 412h1v1h-1zM455 413h1v1h-1zM456 411h1v1h-1zM456 412h1v1h-1zM456 413h1v1h-1zM457 408h1v1h-1zM457 412h1v1h-1zM459 409h1v1h-1zM460 405h1v1h-1zM460 408h1v1h-1zM461 405h1v1h-1zM462 404h1v1h-1zM462 406h1v1h-1zM462 408h1v1h-1zM463 404h1v1h-1zM463 405h1v1h-1zM463 406h1v1h-1zM463 408h1v1h-1zM463 409h1v1h-1zM464 405h1v1h-1zM464 408h1v1h-1zM465 405h1v1h-1zM465 406h1v1h-1zM465 407h1v1h-1zM466 406h1v1h-1zM466 407h1v1h-1zM467 406h1v1h-1zM468 399h1v1h-1zM468 405h1v1h-1zM469 405h1v1h-1zM470 399h1v1h-1zM470 401h1v1h-1zM470 402h1v1h-1zM470 404h1v1h-1zM470 405h1v1h-1zM471 399h1v1h-1zM471 402h1v1h-1zM471 406h1v1h-1zM472 397h1v1h-1zM472 398h1v1h-1zM472 399h1v1h-1zM472 403h1v1h-1zM473 396h1v1h-1zM473 401h1v1h-1zM473 402h1v1h-1zM473 403h1v1h-1zM474 394h1v1h-1zM474 397h1v1h-1zM474 400h1v1h-1zM474 401h1v1h-1zM475 393h1v1h-1zM475 396h1v1h-1zM475 397h1v1h-1zM475 400h1v1h-1zM475 401h1v1h-1zM476 398h1v1h-1zM477 395h1v1h-1zM477 397h1v1h-1zM477 398h1v1h-1zM478 389h1v1h-1zM478 395h1v1h-1zM478 396h1v1h-1zM478 397h1v1h-1zM478 398h1v1h-1zM479 388h1v1h-1zM479 390h1v1h-1zM479 391h1v1h-1zM479 394h1v1h-1zM479 395h1v1h-1zM479 396h1v1h-1zM480 389h1v1h-1zM480 391h1v1h-1zM481 391h1v1h-1zM481 393h1v1h-1zM481 394h1v1h-1zM481 395h1v1h-1zM482 392h1v1h-1zM482 393h1v1h-1zM483 393h1v1h-1z"/>
<path fill="#8B0000" d="M478 384h1v1h-1zM479 385h1v1h-1zM480 384h1v1h-1zM480 385h1v1h-1zM480 386h1v1h-1zM481 384h1v1h-1zM482 387h1v1h-1zM482 390h1v1h-1zM482 391h1v1h-1zM483 390h1v1h-1zM485 388h1v1h-1zM486 386h1v1h-1zM487 383h1v1h-1zM487 384h1v1h-1zM488 377h1v1h-1zM488 385h1v1h-1zM489 386h1v1h-1zM490 379h1v1h-1zM490 380h1v1h-1zM490 383h1v1h-1zM491 379h1v1h-1zM491 384h1v1h-1zM493 377h1v1h-1zM494 384h1v1h-1zM495 383h1v1h-1zM495 384h1v1h-1zM496 385h1v1h-1zM497 379h1v1h-1zM497 381h1v1h-1zM498 382h1v1h-1zM498 383h1v1h-1zM499 380h1v1h-1zM499 384h1v1h-1zM500 375h1v1h-1zM500 380h1v1h-1zM500 381h1v1h-1zM501 374h1v1h-1zM501 378h1v1h-1zM501 379h1v1h-1zM501 384h1v1h-1zM502 374h1v1h-1zM503 369h1v1h-1zM503 372h1v1h-1zM503 373h1v1h-1zM504 375h1v1h-1zM505 371h1v1h-1zM506 369h1v1h-1zM506 370h1v1h-1zM507 373h1v1h-1zM507 375h1v1h-1zM509 372h1v1h-1zM510 372h1v1h-1zM511 371h1v1h-1zM511 372h1v1h-1zM512 368h1v1h-1zM512 371h1v1h-1zM513 367h1v1h-1zM513 371h1v1h-1zM514 368h1v1h-1zM515 365h1v1h-1zM515 366h1v1h-1zM515 372h1v1h-1zM516 372h1v1h-1zM517 371h1v1h-1zM518 371h1v1h-1z"/>
<path fill="#8B0000" d="M506 367h1v1h-1zM510 369h1v1h-1zM510 370h1v1h-1zM511 341h1v1h-1zM511 369h1v1h-1zM513 339h1v1h-1zM513 340h1v1h-1zM513 347h1v1h-1zM513 348h1v1h-1zM513 364h1v1h-1zM513 365h1v1h-1zM513 368h1v1h-1zM513 369h1v1h-1zM514 337h1v1h-1zM514 342h1v1h-1zM514 348h1v1h-1zM514 350h1v1h-1zM514 355h1v1h-1zM514 363h1v1h-1zM514 367h1v1h-1zM514 371h1v1h-1zM515 340h1v1h-1zM515 345h1v1h-1zM515 346h1v1h-1zM515 347h1v1h-1zM515 350h1v1h-1zM515 366h1v1h-1zM515 367h1v1h-1zM515 368h1v1h-1zM515 370h1v1h-1zM516 337h1v1h-1zM516 343h1v1h-1zM516 347h1v1h-1zM516 367h1v1h-1zM516 369h1v1h-1zM517 343h1v1h-1zM517 351h1v1h-1zM517 367h1v1h-1zM517 370h1v1h-1zM518 351h1v1h-1zM518 358h1v1h-1zM518 361h1v1h-1zM519 338h1v1h-1zM519 352h1v1h-1zM519 369h1v1h-1zM519 370h1v1h-1zM519 371h1v1h-1zM520 337h1v1h-1zM520 345h1v1h-1zM520 347h1v1h-1zM520 348h1v1h-1zM520 360h1v1h-1zM520 370h1v1h-1zM521 342h1v1h-1zM521 343h1v1h-1zM521 346h1v1h-1zM521 348h1v1h-1zM521 351h1v1h-1zM521 355h1v1h-1zM521 360h1v1h-1zM521 364h1v1h-1zM521 365h1v1h-1zM521 368h1v1h-1zM522 340h1v1h-1zM522 346h1v1h-1zM522 356h1v1h-1zM522 364h1v1h-1zM522 366h1v1h-1zM522 367h1v1h-1zM522 368h1v1h-1zM523 337h1v1h-1zM523 349h1v1h-1zM523 365h1v1h-1zM523 371h1v1h-1zM523 372h1v1h-1zM524 349h1v1h-1zM524 354h1v1h-1zM524 360h1v1h-1zM524 364h1v1h-1zM524 365h1v1h-1zM524 373h1v1h-1zM525 345h1v1h-1zM525 354h1v1h-1zM525 355h1v1h-1zM525 364h1v1h-1zM525 367h1v1h-1zM526 342h1v1h-1zM526 345h1v1h-1zM526 359h1v1h-1zM527 344h1v1h-1zM527 357h1v1h-1zM527 368h1v1h-1zM528 360h1v1h-1zM528 365h1v1h-1zM529 340h1v1h-1zM529 355h1v1h-1zM529 357h1v1h-1zM529 359h1v1h-1zM529 360h1v1h-1z"/>
<path fill="#8B0000" d="M523 335h1v1h-1zM523 336h1v1h-1zM524 336h1v1h-1zM527 332h1v1h-1zM527 333h1v1h-1zM528 328h1v1h-1zM528 334h1v1h-1zM529 324h1v1h-1zM529 332h1v1h-1zM529 333h1v1h-1zM530 327h1v1h-1zM530 337h1v1h-1zM531 322h1v1h-1zM531 327h1v1h-1zM531 328h1v1h-1zM531 333h1v1h-1zM532 322h1v1h-1zM532 323h1v1h-1zM532 327h1v1h-1zM532 334h1v1h-1zM533 332h1v1h-1zM534 323h1v1h-1zM534 325h1v1h-1zM534 327h1v1h-1zM534 329h1v1h-1zM534 330h1v1h-1zM535 329h1v1h-1zM537 322h1v1h-1zM537 324h1v1h-1zM538 321h1v1h-1zM538 323h1v1h-1zM539 323h1v1h-1z"/>
<path fill="#8B0000" d="M539 321h1v1h-1zM539 326h1v1h-1zM540 320h1v1h-1zM540 325h1v1h-1zM541 314h1v1h-1zM541 326h1v1h-1zM542 311h1v1h-1zM542 317h1v1h-1zM542 320h1v1h-1zM542 324h1v1h-1zM543 316h1v1h-1zM543 321h1v1h-1zM543 322h1v1h-1zM544 307h1v1h-1zM544 313h1v1h-1zM544 319h1v1h-1zM544 320h1v1h-1zM545 312h1v1h-1zM545 317h1v1h-1zM546 310h1v1h-1zM546 313h1v1h-1zM546 315h1v1h-1zM547 304h1v1h-1zM547 305h1v1h-1zM547 307h1v1h-1zM547 311h1v1h-1zM547 313h1v1h-1zM548 300h1v1h-1zM548 301h1v1h-1zM548 303h1v1h-1zM548 304h1v1h-1zM548 305h1v1h-1zM548 308h1v1h-1zM548 312h1v1h-1zM548 313h1v1h-1zM549 296h1v1h-1zM549 300h1v1h-1zM549 303h1v1h-1zM549 304h1v1h-1zM549 306h1v1h-1zM550 295h1v1h-1zM550 299h1v1h-1zM550 300h1v1h-1zM550 304h1v1h-1zM551 289h1v1h-1zM551 294h1v1h-1zM551 299h1v1h-1zM552 286h1v1h-1zM552 287h1v1h-1zM552 288h1v1h-1zM552 291h1v1h-1zM552 292h1v1h-1zM552 298h1v1h-1zM553 288h1v1h-1zM553 289h1v1h-1zM553 292h1v1h-1zM553 293h1v1h-1zM553 294h1v1h-1zM554 290h1v1h-1zM554 295h1v1h-1zM554 297h1v1h-1zM555 289h1v1h-1zM555 290h1v1h-1zM555 292h1v1h-1zM555 294h1v1h-1zM556 289h1v1h-1zM556 290h1v1h-1zM556 295h1v1h-1zM557 289h1v1h-1z"/>
<path fill="#8B0000" d="M551 283h1v1h-1zM553 283h1v1h-1zM553 285h1v1h-1zM554 284h1v1h-1zM554 285h1v1h-1zM555 285h1v1h-1zM557 289h1v1h-1zM558 288h1v1h-1zM559 288h1v1h-1zM561 285h1v1h-1zM561 286h1v1h-1zM561 289h1v1h-1zM561 290h1v1h-1zM562 286h1v1h-1zM563 285h1v1h-1zM565 283h1v1h-1z"/>
<path fill="#8B0000" d="M562 285h1v1h-1zM567 281h1v1h-1zM567 282h1v1h-1zM568 283h1v1h-1zM570 274h1v1h-1zM570 280h1v1h-1zM572 270h1v1h-1zM572 278h1v1h-1zM572 279h1v1h-1zM573 270h1v1h-1z"/>
<path fill="#8B0000" d="M595 246h1v1h-1zM595 247h1v1h-1zM597 246h1v1h-1zM602 247h1v1h-1zM603 242h1v1h-1zM607 243h1v1h-1zM607 244h1v1h-1zM609 245h1v1h-1zM612 242h1v1h-1zM612 243h1v1h-1zM628 238h1v1h-1z"/>
<path fill="#8B0000" d="M628 244h1v1h-1zM629 245h1v1h-1zM632 244h1v1h-1zM635 225h1v1h-1zM636 224h1v1h-1zM636 229h1v1h-1zM636 232h1v1h-1zM636 243h1v1h-1zM637 219h1v1h-1zM637 235h1v1h-1zM638 219h1v1h-1zM638 220h1v1h-1zM639 215h1v1h-1z"/>
<path fill="#8B0000" d="M133 556h1v1h-1zM133 560h1v1h-1zM134 554h1v1h-1zM134 561h1v1h-1zM135 551h1v1h-1zM135 552h1v1h-1zM135 554h1v1h-1zM136 550h1v1h-1zM137 543h1v1h-1zM137 544h1v1h-1zM137 545h1v1h-1zM137 546h1v1h-1zM137 550h1v1h-1zM138 546h1v1h-1zM140 520h1v1h-1zM140 521h1v1h-1zM140 524h1v1h-1zM140 526h1v1h-1zM140 527h1v1h-1zM140 535h1v1h-1zM140 536h1v1h-1zM140 537h1v1h-1zM140 538h1v1h-1zM140 540h1v1h-1zM141 523h1v1h-1zM141 525h1v1h-1zM141 526h1v1h-1zM141 527h1v1h-1zM141 535h1v1h-1zM141 538h1v1h-1zM141 540h1v1h-1zM142 533h1v1h-1zM142 536h1v1h-1z"/>
<path fill="#FFA200" d="M442 426h1v1h-1zM443 425h1v1h-1zM444 425h1v1h-1zM445 422h1v1h-1zM446 420h1v1h-1zM446 422h1v1h-1zM448 417h1v1h-1zM451 414h1v1h-1zM451 416h1v1h-1zM452 414h1v1h-1zM452 415h1v1h-1zM452 416h1v1h-1zM458 412h1v1h-1zM464 408h1v1h-1zM465 407h1v1h-1zM465 409h1v1h-1zM466 407h1v1h-1zM468 406h1v1h-1zM469 405h1v1h-1zM469 406h1v1h-1zM472 400h1v1h-1zM473 401h1v1h-1zM473 402h1v1h-1zM477 398h1v1h-1z"/>
<path fill="#FFF300" d="M441 429h1v1h-1zM442 427h1v1h-1zM443 426h1v1h-1zM444 426h1v1h-1zM447 420h1v1h-1zM447 421h1v1h-1zM450 416h1v1h-1zM453 413h1v1h-1zM453 414h1v1h-1zM455 414h1v1h-1zM459 410h1v1h-1zM460 409h1v1h-1zM465 406h1v1h-1zM467 406h1v1h-1zM470 403h1v1h-1zM470 404h1v1h-1zM473 402h1v1h-1zM474 401h1v1h-1zM475 402h1v1h-1zM476 400h1v1h-1zM476 402h1v1h-1z"/>
<path fill="#FFA200" d="M525 348h1v1h-1zM525 350h1v1h-1zM526 343h1v1h-1zM526 349h1v1h-1zM527 343h1v1h-1zM527 345h1v1h-1zM527 347h1v1h-1zM527 349h1v1h-1zM527 350h1v1h-1zM528 342h1v1h-1zM528 343h1v1h-1zM528 347h1v1h-1zM530 341h1v1h-1zM530 344h1v1h-1zM530 345h1v1h-1z"/>
<path fill="#FFA200" d="M551 280h1v1h-1zM552 281h1v1h-1zM553 280h1v1h-1zM553 281h1v1h-1zM553 282h1v1h-1zM553 283h1v1h-1zM554 283h1v1h-1zM555 283h1v1h-1zM556 283h1v1h-1zM561 283h1v1h-1zM561 284h1v1h-1zM561 286h1v1h-1z"/>
<path fill="#DCFF23" d="M138 538h1v1h-1zM139 537h1v1h-1zM140 519h1v1h-1zM140 532h1v1h-1zM140 533h1v1h-1zM140 539h1v1h-1zM140 540h1v1h-1zM140 543h1v1h-1zM141 518h1v1h-1zM141 535h1v1h-1zM141 536h1v1h-1zM141 540h1v1h-1zM144 504h1v1h-1zM144 506h1v1h-1zM144 508h1v1h-1zM146 501h1v1h-1zM150 493h1v1h-1zM151 493h1v1h-1zM153 492h1v1h-1zM154 491h1v1h-1zM155 490h1v1h-1zM157 488h1v1h-1z"/>
<path fill="#FFF300" d="M202 462h1v1h-1zM202 463h1v1h-1zM203 462h1v1h-1zM206 463h1v1h-1zM208 461h1v1h-1zM212 461h1v1h-1zM214 461h1v1h-1zM214 462h1v1h-1zM215 461h1v1h-1zM218 462h1v1h-1zM219 461h1v1h-1zM219 462h1v1h-1zM222 461h1v1h-1zM224 462h1v1h-1zM225 462h1v1h-1zM227 463h1v1h-1zM229 462h1v1h-1zM229 463h1v1h-1zM230 462h1v1h-1zM230 463h1v1h-1zM231 463h1v1h-1zM231 464h1v1h-1zM233 462h1v1h-1zM233 464h1v1h-1zM233 465h1v1h-1zM234 464h1v1h-1zM235 464h1v1h-1z"/>
<path fill="#FFFFFF" d="M644 209h1v1h-1zM645 207h1v1h-1zM645 208h1v1h-1zM646 205h1v1h-1zM646 206h1v1h-1zM646 207h1v1h-1zM647 200h1v1h-1zM647 201h1v1h-1zM647 205h1v1h-1zM647 206h1v1h-1zM648 203h1v1h-1zM648 204h1v1h-1zM649 200h1v1h-1zM650 201h1v1h-1zM652 198h1v1h-1zM652 199h1v1h-1zM654 198h1v1h-1zM654 199h1v1h-1zM656 198h1v1h-1zM663 194h1v1h-1zM664 194h1v1h-1zM664 195h1v1h-1zM665 195h1v1h-1zM666 196h1v1h-1zM667 197h1v1h-1zM668 194h1v1h-1zM668 197h1v1h-1zM669 193h1v1h-1zM669 194h1v1h-1zM670 193h1v1h-1zM671 192h1v1h-1zM672 193h1v1h-1zM673 193h1v1h-1zM677 193h1v1h-1zM678 192h1v1h-1zM678 193h1v1h-1zM679 193h1v1h-1zM681 191h1v1h-1zM684 190h1v1h-1zM684 191h1v1h-1zM686 189h1v1h-1zM686 190h1v1h-1zM688 187h1v1h-1zM689 187h1v1h-1zM689 188h1v1h-1zM689 189h1v1h-1zM692 186h1v1h-1zM692 187h1v1h-1zM693 187h1v1h-1zM694 187h1v1h-1zM694 188h1v1h-1zM696 184h1v1h-1zM696 185h1v1h-1zM698 185h1v1h-1zM703 183h1v1h-1zM703 184h1v1h-1zM704 182h1v1h-1zM704 184h1v1h-1zM705 184h1v1h-1zM705 185h1v1h-1zM706 184h1v1h-1zM708 180h1v1h-1zM709 179h1v1h-1zM710 178h1v1h-1zM710 179h1v1h-1zM710 180h1v1h-1zM711 175h1v1h-1zM711 176h1v1h-1z"/>
<path fill="#FF4500" d="M643 208h1v1h-1zM644 206h1v1h-1zM644 208h1v1h-1zM648 202h1v1h-1zM649 202h1v1h-1zM650 200h1v1h-1zM656 198h1v1h-1zM656 199h1v1h-1zM658 195h1v1h-1zM661 195h1v1h-1zM667 196h1v1h-1zM668 197h1v1h-1zM671 192h1v1h-1zM673 193h1v1h-1zM674 194h1v1h-1zM675 193h1v1h-1zM678 194h1v1h-1z"/>
<path fill="#FFFFFF" d="M735 205h1v1h-1zM735 206h1v1h-1zM737 205h1v1h-1zM738 206h1v1h-1zM739 205h1v1h-1zM740 205h1v1h-1zM742 203h1v1h-1zM743 203h1v1h-1zM744 202h1v1h-1zM745 202h1v1h-1zM746 201h1v1h-1zM747 199h1v1h-1zM747 200h1v1h-1zM748 200h1v1h-1zM749 199h1v1h-1zM749 200h1v1h-1zM750 199h1v1h-1zM751 198h1v1h-1zM752 196h1v1h-1zM752 197h1v1h-1zM752 198h1v1h-1zM758 191h1v1h-1zM759 190h1v1h-1zM759 191h1v1h-1zM760 191h1v1h-1z"/>
<path fill="#FFFFFF" d="M767 186h1v1h-1zM771 186h1v1h-1zM772 185h1v1h-1zM772 187h1v1h-1zM773 185h1v1h-1zM774 184h1v1h-1zM778 184h1v1h-1zM778 185h1v1h-1zM779 185h1v1h-1zM780 182h1v1h-1zM781 183h1v1h-1zM782 182h1v1h-1zM782 183h1v1h-1zM784 181h1v1h-1zM784 182h1v1h-1zM785 182h1v1h-1zM787 180h1v1h-1zM787 181h1v1h-1zM788 181h1v1h-1zM789 179h1v1h-1zM789 180h1v1h-1zM790 179h1v1h-1zM790 180h1v1h-1zM791 180h1v1h-1zM792 178h1v1h-1zM794 178h1v1h-1zM795 178h1v1h-1zM798 176h1v1h-1zM802 175h1v1h-1zM803 174h1v1h-1zM803 175h1v1h-1zM804 175h1v1h-1zM805 175h1v1h-1zM805 176h1v1h-1zM807 174h1v1h-1zM807 175h1v1h-1zM808 172h1v1h-1zM808 173h1v1h-1zM813 171h1v1h-1zM814 172h1v1h-1zM815 172h1v1h-1zM816 171h1v1h-1zM817 169h1v1h-1zM818 169h1v1h-1zM819 170h1v1h-1zM823 166h1v1h-1zM823 167h1v1h-1zM825 166h1v1h-1zM825 167h1v1h-1zM830 163h1v1h-1zM830 164h1v1h-1zM830 165h1v1h-1zM831 164h1v1h-1zM831 165h1v1h-1zM832 164h1v1h-1zM833 165h1v1h-1zM835 164h1v1h-1z"/>
<path fill="#FFFFFF" d="M729 185h1v1h-1zM730 185h1v1h-1zM732 183h1v1h-1zM733 182h1v1h-1zM734 181h1v1h-1zM735 181h1v1h-1zM737 180h1v1h-1zM738 180h1v1h-1zM742 177h1v1h-1zM745 176h1v1h-1zM747 175h1v1h-1zM748 176h1v1h-1zM751 172h1v1h-1z"/>
<path fill="#8B0000" d="M669 190h1v1h-1zM670 191h1v1h-1zM670 192h1v1h-1zM671 191h1v1h-1zM671 192h1v1h-1z"/>
<path fill="#8B0000" d="M674 184h1v1h-1zM674 185h1v1h-1z"/>
</g>
<rect x="129.5" y="162.1" width="710.5" height="698.3" fill="none" stroke="#222" stroke-width="1.2"/>
<g stroke="#000" stroke-width="1.35" fill="none"><line x1="185.6" y1="860.4" x2="185.6" y2="877.2"/><line x1="279.2" y1="860.4" x2="279.2" y2="877.2"/><line x1="372.8" y1="860.4" x2="372.8" y2="877.2"/><line x1="466.5" y1="860.4" x2="466.5" y2="877.2"/><line x1="560.1" y1="860.4" x2="560.1" y2="877.2"/><line x1="653.7" y1="860.4" x2="653.7" y2="877.2"/><line x1="747.3" y1="860.4" x2="747.3" y2="877.2"/><line x1="112.1" y1="833.7" x2="129.5" y2="833.7"/><line x1="112.1" y1="740.0" x2="129.5" y2="740.0"/><line x1="112.1" y1="646.2" x2="129.5" y2="646.2"/><line x1="112.1" y1="552.5" x2="129.5" y2="552.5"/><line x1="112.1" y1="458.7" x2="129.5" y2="458.7"/><line x1="112.1" y1="364.9" x2="129.5" y2="364.9"/><line x1="112.1" y1="271.2" x2="129.5" y2="271.2"/><line x1="112.1" y1="177.4" x2="129.5" y2="177.4"/></g>
<g opacity="0.999">
<text x="184.6" y="910.3" font-size="23.6" text-anchor="middle" textLength="54.6" lengthAdjust="spacingAndGlyphs">95°W</text>
<text x="278.2" y="910.3" font-size="23.6" text-anchor="middle" textLength="54.6" lengthAdjust="spacingAndGlyphs">90°W</text>
<text x="371.8" y="910.3" font-size="23.6" text-anchor="middle" textLength="54.6" lengthAdjust="spacingAndGlyphs">85°W</text>
<text x="465.5" y="910.3" font-size="23.6" text-anchor="middle" textLength="54.6" lengthAdjust="spacingAndGlyphs">80°W</text>
<text x="559.1" y="910.3" font-size="23.6" text-anchor="middle" textLength="54.6" lengthAdjust="spacingAndGlyphs">75°W</text>
<text x="652.7" y="910.3" font-size="23.6" text-anchor="middle" textLength="54.6" lengthAdjust="spacingAndGlyphs">70°W</text>
<text x="746.3" y="910.3" font-size="23.6" text-anchor="middle" textLength="54.6" lengthAdjust="spacingAndGlyphs">65°W</text>
<text x="72.1" y="842.3" font-size="23.6" text-anchor="middle" textLength="50.4" lengthAdjust="spacingAndGlyphs">10°N</text>
<text x="72.1" y="748.6" font-size="23.6" text-anchor="middle" textLength="50.4" lengthAdjust="spacingAndGlyphs">15°N</text>
<text x="72.1" y="654.8" font-size="23.6" text-anchor="middle" textLength="50.4" lengthAdjust="spacingAndGlyphs">20°N</text>
<text x="72.1" y="561.1" font-size="23.6" text-anchor="middle" textLength="50.4" lengthAdjust="spacingAndGlyphs">25°N</text>
<text x="72.1" y="467.3" font-size="23.6" text-anchor="middle" textLength="50.4" lengthAdjust="spacingAndGlyphs">30°N</text>
<text x="72.1" y="373.6" font-size="23.6" text-anchor="middle" textLength="50.4" lengthAdjust="spacingAndGlyphs">35°N</text>
<text x="72.1" y="279.8" font-size="23.6" text-anchor="middle" textLength="50.4" lengthAdjust="spacingAndGlyphs">40°N</text>
<text x="72.1" y="186.0" font-size="23.6" text-anchor="middle" textLength="50.4" lengthAdjust="spacingAndGlyphs">45°N</text>
<text x="484.7" y="944.8" font-size="23.2" text-anchor="middle" textLength="99.5" lengthAdjust="spacingAndGlyphs">Longitude</text>
<text transform="translate(41.3 511.3) rotate(-90)" font-size="23.2" text-anchor="middle" textLength="80" lengthAdjust="spacingAndGlyphs">Latitude</text>
<text x="163.4" y="133.7" font-size="25.6" textLength="142.4" lengthAdjust="spacingAndGlyphs">2021012716</text>
<text x="657.4" y="128.8" font-size="25.6" textLength="149.2" lengthAdjust="spacingAndGlyphs">Elevation (m)</text>
<g shape-rendering="crispEdges"><rect x="878.4" y="822.11" width="42.6" height="31.39" fill="#0000AD"/><rect x="878.4" y="791.03" width="42.6" height="31.39" fill="#0000DC"/><rect x="878.4" y="759.94" width="42.6" height="31.39" fill="#000BFF"/><rect x="878.4" y="728.85" width="42.6" height="31.39" fill="#003AFF"/><rect x="878.4" y="697.77" width="42.6" height="31.39" fill="#0068FF"/><rect x="878.4" y="666.68" width="42.6" height="31.39" fill="#0096FF"/><rect x="878.4" y="635.60" width="42.6" height="31.39" fill="#00C5FF"/><rect x="878.4" y="604.51" width="42.6" height="31.39" fill="#00F3FF"/><rect x="878.4" y="573.42" width="42.6" height="31.39" fill="#23FFDC"/><rect x="878.4" y="542.34" width="42.6" height="31.39" fill="#51FFAE"/><rect x="878.4" y="511.25" width="42.6" height="31.39" fill="#7FFF7F"/><rect x="878.4" y="480.16" width="42.6" height="31.39" fill="#AEFF51"/><rect x="878.4" y="449.08" width="42.6" height="31.39" fill="#DCFF23"/><rect x="878.4" y="417.99" width="42.6" height="31.39" fill="#FFF300"/><rect x="878.4" y="386.90" width="42.6" height="31.39" fill="#FFD000"/><rect x="878.4" y="355.82" width="42.6" height="31.39" fill="#FFA200"/><rect x="878.4" y="324.73" width="42.6" height="31.39" fill="#FF7300"/><rect x="878.4" y="293.65" width="42.6" height="31.39" fill="#FF4500"/><rect x="878.4" y="262.56" width="42.6" height="31.39" fill="#FF1400"/><rect x="878.4" y="231.47" width="42.6" height="31.39" fill="#E30000"/><rect x="878.4" y="200.39" width="42.6" height="31.39" fill="#B50000"/><rect x="878.4" y="169.30" width="42.6" height="31.39" fill="#8B0000"/></g><g stroke="#000" stroke-width="0.8" opacity="0.75"><line x1="878.4" y1="822.11" x2="921.0" y2="822.11"/><line x1="878.4" y1="791.03" x2="921.0" y2="791.03"/><line x1="878.4" y1="759.94" x2="921.0" y2="759.94"/><line x1="878.4" y1="728.85" x2="921.0" y2="728.85"/><line x1="878.4" y1="697.77" x2="921.0" y2="697.77"/><line x1="878.4" y1="666.68" x2="921.0" y2="666.68"/><line x1="878.4" y1="635.60" x2="921.0" y2="635.60"/><line x1="878.4" y1="604.51" x2="921.0" y2="604.51"/><line x1="878.4" y1="573.42" x2="921.0" y2="573.42"/><line x1="878.4" y1="542.34" x2="921.0" y2="542.34"/><line x1="878.4" y1="511.25" x2="921.0" y2="511.25"/><line x1="878.4" y1="480.16" x2="921.0" y2="480.16"/><line x1="878.4" y1="449.08" x2="921.0" y2="449.08"/><line x1="878.4" y1="417.99" x2="921.0" y2="417.99"/><line x1="878.4" y1="386.90" x2="921.0" y2="386.90"/><line x1="878.4" y1="355.82" x2="921.0" y2="355.82"/><line x1="878.4" y1="324.73" x2="921.0" y2="324.73"/><line x1="878.4" y1="293.65" x2="921.0" y2="293.65"/><line x1="878.4" y1="262.56" x2="921.0" y2="262.56"/><line x1="878.4" y1="231.47" x2="921.0" y2="231.47"/><line x1="878.4" y1="200.39" x2="921.0" y2="200.39"/></g><rect x="878.4" y="169.3" width="42.6" height="683.9" fill="none" stroke="#000" stroke-width="0.5" opacity="0.6"/>
<text x="960" y="833.1" font-size="31.2" text-anchor="middle">-2</text>
<text x="960" y="770.9" font-size="31.2" text-anchor="middle">-1.6</text>
<text x="960" y="708.8" font-size="31.2" text-anchor="middle">-1.2</text>
<text x="960" y="646.6" font-size="31.2" text-anchor="middle">-0.8</text>
<text x="960" y="584.4" font-size="31.2" text-anchor="middle">-0.4</text>
<text x="960" y="522.2" font-size="31.2" text-anchor="middle">0</text>
<text x="960" y="460.1" font-size="31.2" text-anchor="middle">0.4</text>
<text x="960" y="397.9" font-size="31.2" text-anchor="middle">0.8</text>
<text x="960" y="335.7" font-size="31.2" text-anchor="middle">1.2</text>
<text x="960" y="273.6" font-size="31.2" text-anchor="middle">1.6</text>
<text x="960" y="211.4" font-size="31.2" text-anchor="middle">2</text>
</g>
</svg></body></html>
